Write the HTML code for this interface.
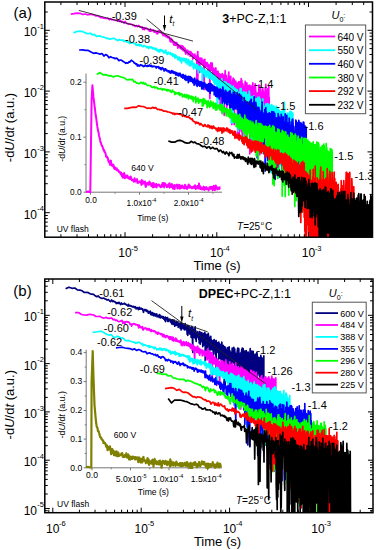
<!DOCTYPE html><html><head><meta charset="utf-8"><style>html,body{margin:0;padding:0;background:#fff;overflow:hidden}svg{display:block}</style></head><body><svg width="377" height="550" viewBox="0 0 377 550" font-family='"Liberation Sans", sans-serif'>
<rect width="377" height="550" fill="#fff"/>
<defs><clipPath id="ca"><rect x="44.8" y="2.0" width="327.7" height="235.2"/></clipPath>
<clipPath id="cb"><rect x="44.8" y="279.0" width="328.2" height="233.70000000000005"/></clipPath></defs>
<g clip-path="url(#ca)">
<polyline points="70.8,14.1 74.1,13.7 77.2,13.1 80,13.3 82.7,14.5 85.2,14 87.5,14.8 89.7,14.5 91.7,14.3 93.7,15 95.6,15.8 97.4,15.8 99.1,16.5 100.7,17.6 102.3,17.7 103.8,18.1 105.3,18.4 106.7,18.5 108,18.2 109.3,19.7 110.6,18.8 111.8,19.7 113,19.7 114.2,20 115.3,20.3 116.4,20.2 117.5,21.1 118.5,20.2 119.5,21.4 120.5,20.5 121.4,22.2 122.4,21.5 123.3,22.2 124.2,23.2 125.1,21.5 125.9,22.5 126.7,23.3 127.6,23.8 128.4,24.3 129.1,24 129.9,24.2 130.7,24.1 131.4,24.4 132.1,24.5 132.9,25.4 133.6,25 134.3,25.5 134.9,26.4 135.6,26.3 136.3,25.5 136.9,25.8 137.5,26.6 138.2,25.9 138.8,25.5 139.4,26.1 140,27.2 140.6,26.8 141.1,26.9 141.7,27.8 142.3,26.9 142.8,29.4 143.4,27.8 143.9,27.8 144.4,29.7 145,27.7 145.5,28.2 146,28.5 146.5,28.2 147,28.7 147.5,29.5 148,29.3 148.5,29.3 148.9,30.3 149.4,31.2 149.9,31.1 150.3,28.8 150.8,31.2 151.2,30.8 151.7,30.6 152.1,29.9 152.5,30.3 153,30.5 153.4,30 153.8,31.9 154.2,31.7 154.6,31 155,30.6 155.4,32.5 155.8,32 156.2,32.5 156.6,31.3 157,33.9 157.4,31.7 157.8,33.7 158.2,30.8 158.5,32.4 158.9,32.2 159.3,30.8 159.6,32 160,31.7 160.3,31.7 160.7,32.2 161,32 161.4,33.1 161.7,33.5 162.1,33.5 162.4,32.9 162.7,33.4 163.1,35.6 163.4,33.9 163.7,34.3 164.1,34.1 164.4,35.3 164.7,35.8 165,36 165.3,35.8 165.6,36.3 165.9,35.5 166.2,36.6 166.6,35.4 166.9,36.4 167.2,37.4 167.4,36 167.7,37.7 168,37.5 168.3,36.5 168.6,36.4 168.9,36.7 169.2,37.4 169.5,38.8 169.7,38.9 170,40.4 170.3,41.9 170.6,39 170.8,38.1 171.1,38.8 171.4,38.6 171.7,39.8 171.9,40.2 172.2,42.4 172.4,39.9 172.7,41.1 173,41.3 173.2,41.6 173.5,41.5 173.7,45 174,42.2 174.2,42.6 174.5,43.7 174.7,43.2 175,45.5 175.2,42.3 175.5,43.3 175.7,43.2 175.9,43.7 176.2,45.2 176.4,43.6 176.7,42.6 176.9,44.5 177.1,43.7 177.3,45.6 177.6,45.2 177.8,48.1 178.2,44.6 178.2,46 178.7,47.2 178.9,45.9 179.2,45.9 179.4,45.8 179.6,45.9 179.8,45.5 180.2,48.4 180.2,45.5 180.7,48.6 180.9,47.1 181.1,47.5 181.3,47.6 181.8,49.3 181.8,45.5 182.1,48.7 182.3,47.8 182.8,46.5 182.8,48.7 183.1,50.7 183.3,46.7 183.8,48.2 183.8,49.4 184.1,50 184.3,51.1 184.8,50.6 184.8,48 185.2,48.6 185.2,52.5 185.6,51.8 185.8,54.1 186.2,52.6 186.2,52.3 186.8,50 186.8,51.9 187.2,52.3 187.2,50.3 187.7,50.3 187.8,50.3 188.2,54.8 188.2,51.6 188.8,51.9 188.8,52 189.2,51.9 189.2,54.1 189.8,51.4 189.8,53 190.2,52.6 190.2,56.2 190.8,52.1 190.8,55.7 191.2,55.4 191.2,52.2 191.8,53.8 191.8,55.8 192.2,53.5 192.2,56.4 192.8,54 192.8,59.1 193.2,57.9 193.2,54.8 193.8,55.2 193.8,56.3 194.2,54.9 194.2,58.1 194.8,54 194.8,57.2 195.2,57.6 195.2,56.2 195.8,58 195.8,56 196.2,56 196.2,60 196.8,56.9 196.8,79.9 197.2,56.9 197.2,59.9 197.8,51.6 197.8,81.2 198.2,56.1 198.2,58.5 198.8,61.6 198.8,59.1 199.2,63.2 199.2,58.7 199.8,58.1 199.8,72.5 200.2,59.8 200.2,60.4 200.8,62 200.8,58.1 201.2,62.8 201.2,59.8 201.8,58.4 201.8,63.6 202.2,60.6 202.2,63.2 202.8,60.9 202.8,64.7 203.2,62.6 203.2,60.1 203.8,62.7 203.8,67.6 204.2,89.4 204.2,61.5 204.8,59.3 204.8,66.9 205.2,63.1 205.2,61.8 205.8,67.2 205.8,63.9 206.2,63.9 206.2,64.8 206.8,65.7 206.8,62.7 207.2,62.7 207.2,66.1 207.8,66.1 207.8,63.9 208.2,70.6 208.2,65.5 208.8,64.9 208.8,69.4 209.2,65.8 209.2,69.6 209.8,65.9 209.8,98.6 210.2,66 210.2,69.4 210.8,62.9 210.8,70.1 211.2,68.4 211.2,70.5 211.8,63.5 211.8,70.2 212.2,69 212.2,63.2 212.8,76.7 212.8,68.2 213.2,68.1 213.2,74.2 213.8,68.3 213.8,74.1 214.2,69.4 214.2,72.8 214.8,73.3 214.8,69.9 215.2,77.3 215.2,71.5 215.8,72 215.8,67.8 216.2,74.9 216.2,71.1 216.8,77.6 216.8,71.5 217.2,71.6 217.2,82.5 217.8,76.2 217.8,71.2 218.2,72 218.2,76.1 218.8,73.9 218.8,81.5 219.2,77.7 219.2,74 219.8,79.8 219.8,73.8 220.2,109 220.2,75.6 220.8,76.4 220.8,83.5 221.2,74.8 221.2,79 221.8,89.1 221.8,76.4 222.2,78.1 222.2,73.5 222.8,75.1 222.8,80.1 223.2,98.6 223.2,75.4 223.8,75.4 223.8,80.8 224.2,115.3 224.2,75.3 224.8,83.2 224.8,77.7 225.2,70.7 225.2,86.6 225.8,84.6 225.8,75.8 226.2,75.5 226.2,83.2 226.8,108.2 226.8,80.1 227.2,79.5 227.2,86.9 227.8,87.1 227.8,80.2 228.2,84.9 228.2,78.4 228.8,72.1 228.8,86.4 229.2,85.3 229.2,79.7 229.8,88.3 229.8,76.6 230.2,117.5 230.2,84.4 230.8,76.4 230.8,85.8 231.2,82.1 231.2,90.5 231.8,82.4 231.8,124.4 232.2,81.9 232.2,86.6 232.8,94.4 232.8,80.6 233.2,78.2 233.2,107.8 233.8,79.8 233.8,93 234.2,79.4 234.2,124.6 234.8,82.5 234.8,90.3 235.2,84.5 235.2,99.2 235.8,81.1 235.8,92.4 236.2,83.5 236.2,96.8 236.8,94.9 236.8,83.9 237.2,83.2 237.2,99.1 237.8,135.7 237.8,86.1 238.2,82.9 238.2,93.2 238.8,92.5 238.8,81.7 239.2,84.1 239.2,134.8 239.8,82.6 239.8,91.5 240.2,93.5 240.2,85.2 240.8,81.1 240.8,97.6 241.2,78.7 241.2,131.1 241.8,96 241.8,80.3 242.2,89.9 242.2,136.3 242.8,130.5 242.8,83.9 243.2,86.4 243.2,119 243.8,88.4 243.8,131.4 244.2,101.2 244.2,90.1 244.8,96.4 244.8,88.9 245.2,81.4 245.2,101.7 245.8,88.4 245.8,106 246.2,89.2 246.2,137.5 246.8,96.9 246.8,82.8 247.2,87.8 247.2,105.6 247.8,86.3 247.8,112.1 248.2,86.1 248.2,105.7 248.8,90.2 248.8,121.8 249.2,109.7 249.2,85.4 249.8,85.2 249.8,153.8 250.2,106.4 250.2,90.8 250.8,86.7 250.8,150.2 251.2,119.9 251.2,91.6 251.8,86 251.8,99.8 252.2,149.2 252.2,95.2 252.8,82.8 252.8,103.5 253.2,91.6 253.2,116.2 253.8,136 253.8,91.5 254.2,116 254.2,88 254.8,85.5 254.8,124.5 255.2,138.8 255.2,83.8 255.8,91 255.8,149.6 256.2,94.6 256.2,105 256.8,94.1 256.8,112.5 257.2,145.1 257.2,93 257.8,95.6 257.8,109.7 258.2,92.5 258.2,159.9 258.8,113.3 258.8,85 259.2,132.3 259.2,102.3 259.8,85.6 259.8,154.7 260.2,98.5 260.2,119.5 260.8,89 260.8,110.6 261.2,152.1 261.2,92 261.8,92.4 261.8,129.7 262.2,105.2 262.2,114.9 262.8,120.6 262.8,88.7 263.2,111.3 263.2,90.8 263.8,97.6 263.8,111.6 264.2,94.9 264.2,105.2 264.8,122.1 264.8,92.2 265.2,126.7 265.2,87.7 265.8,114 265.8,84.4 266.2,112.4 266.2,92.8 266.8,109.8 266.8,96.8 267.2,90.4 267.2,126.3 267.8,143.8 267.8,88.7 268.2,105.9 268.2,92 268.8,86.3 268.8,120.7 269.2,121.8 269.2,96.9" fill="none" stroke="#FF00FF" stroke-width="1.7" stroke-linejoin="round"/>
<polyline points="73.5,32.9 76.8,31.5 79.9,31.2 82.7,31.6 85.4,32.9 87.9,33.8 90.2,33.2 92.4,34.8 94.4,34.4 96.4,36.4 98.3,36.1 100.1,35.9 101.8,36.7 103.4,37.1 105,37.5 106.5,38.5 108,38.2 109.4,39.3 110.7,38.9 112,38.6 113.3,38.3 114.5,38.5 115.7,39.4 116.9,40 118,40.7 119.1,39.6 120.2,40.1 121.2,40 122.2,40.4 123.2,39.9 124.1,41.6 125.1,41 126,41.5 126.9,42 127.8,42.2 128.6,41.6 129.4,43.5 130.3,43.1 131.1,43.1 131.8,42.7 132.6,42.5 133.4,42.6 134.1,43.4 134.8,43.8 135.6,43.6 136.3,45.4 137,44.5 137.6,45.2 138.3,45.3 139,44.2 139.6,45.7 140.2,45.4 140.9,44.6 141.5,45.9 142.1,46.4 142.7,46.5 143.3,46.7 143.8,45.3 144.4,46 145,46 145.5,46.4 146.1,46.6 146.6,47.6 147.1,47.4 147.7,46.5 148.2,47.8 148.7,48.6 149.2,47.6 149.7,46.7 150.2,47.2 150.7,47.6 151.2,47 151.6,47.8 152.1,47.4 152.6,48.8 153,48.9 153.5,48.3 153.9,47.8 154.4,48.9 154.8,48.4 155.2,48.5 155.7,49.9 156.1,48.6 156.5,48.4 156.9,50 157.3,51 157.7,51 158.1,50.3 158.5,51.6 158.9,49.6 159.3,51.9 159.7,52 160.1,49.9 160.5,50.6 160.9,49.5 161.2,49.8 161.6,51 162,49.9 162.3,50.8 162.7,51.2 163,50.9 163.4,51.9 163.7,52.9 164.1,51.3 164.4,52.2 164.8,52.8 165.1,51.2 165.4,51.2 165.8,50.2 166.1,52.3 166.4,53.1 166.8,52.6 167.1,54.5 167.4,54 167.7,53.4 168,52.7 168.3,52.2 168.6,53.1 168.9,53.6 169.3,53.2 169.6,53.1 169.9,53.2 170.1,54.4 170.4,52.6 170.7,53.6 171,54.1 171.3,54.9 171.6,55 171.9,54.2 172.2,54 172.4,53.7 172.7,56.1 173,55.5 173.3,55.2 173.5,54.5 173.8,54.3 174.1,56.7 174.4,55.5 174.6,56.2 174.9,58.1 175.1,54.8 175.4,55.5 175.7,56.8 175.9,57.3 176.2,55.8 176.4,56.7 176.7,56.4 176.9,56.6 177.2,57.8 177.4,57.7 177.7,59.2 177.9,58.6 178.2,60 178.4,57.3 178.6,58.8 178.9,57.1 179.1,57 179.4,57.4 179.6,59.8 179.8,59.2 180,57.5 180.3,61.1 180.8,60.6 180.8,58.9 181.2,59.2 181.4,58.1 181.6,62.9 181.9,58.8 182.1,59.1 182.3,59 182.8,58.5 182.8,59.9 183.2,58.3 183.4,58.5 183.8,60.8 183.8,58.6 184.2,58.6 184.4,60.1 184.6,58.5 184.8,59.3 185.2,61.2 185.2,60 185.6,62.6 185.8,59.7 186.2,58.6 186.2,60.6 186.6,61.7 186.8,60 187.2,64.1 187.2,62.7 187.8,59.9 187.8,62 188.2,59.4 188.3,61.6 188.8,60 188.8,62.8 189.2,65.7 189.2,61.3 189.8,64.5 189.8,61.7 190.2,63.3 190.4,62.8 190.8,66 190.8,61.4 191.2,65.3 191.2,63.3 191.8,61.6 191.8,64.1 192.2,60.5 192.2,62.6 192.8,62.9 192.8,63.5 193.2,67.3 193.2,64.4 193.8,68.8 193.8,65.7 194.2,63.4 194.2,67.9 194.8,64 194.8,67.2 195.2,67.8 195.2,66.4 195.8,65.1 195.8,67.9 196.2,65.4 196.2,68.8 196.8,68.4 196.8,64.6 197.2,66.9 197.2,68.8 197.8,65.2 197.8,67.2 198.2,66.4 198.2,72.8 198.8,67.3 198.8,70.2 199.2,68 199.2,67.6 199.8,66.9 199.8,69.1 200.2,66.3 200.2,69.4 200.8,72.1 200.8,67.3 201.2,66.7 201.2,69.9 201.8,67.5 201.8,71.8 202.2,69.4 202.2,80.8 202.8,68.3 202.8,72.8 203.2,70.2 203.2,73.1 203.8,72.9 203.8,69.3 204.2,70.9 204.2,72.4 204.8,74.6 204.8,72.5 205.2,76.6 205.2,71.2 205.8,70.2 205.8,74.9 206.2,70.7 206.2,76.8 206.8,71.5 206.8,73.6 207.2,73.8 207.2,72.1 207.8,72.4 207.8,75.3 208.2,71.1 208.2,77.9 208.8,74.1 208.8,77.2 209.2,77.7 209.2,73 209.8,72.1 209.8,75.7 210.2,78.3 210.2,71.7 210.8,74.3 210.8,79.2 211.2,73.5 211.2,76.2 211.8,74.7 211.8,78.4 212.2,75.4 212.2,79.2 212.8,76.3 212.8,80.2 213.2,74.8 213.2,79.2 213.8,77.6 213.8,82.4 214.2,77 214.2,80.4 214.8,77.1 214.8,84.4 215.2,83.7 215.2,75.6 215.8,76.7 215.8,83.6 216.2,78.5 216.2,82.9 216.8,78.3 216.8,85 217.2,103.6 217.2,79.3 217.8,105.9 217.8,79.8 218.2,84.9 218.2,81 218.8,81.3 218.8,87.1 219.2,84.6 219.2,80.5 219.8,87.7 219.8,81.2 220.2,82.3 220.2,86.1 220.8,86.9 220.8,83.1 221.2,79.8 221.2,92.6 221.8,78.6 221.8,89.1 222.2,113 222.2,81.4 222.8,110.5 222.8,82.1 223.2,84 223.2,89.1 223.8,82.7 223.8,89.2 224.2,91.8 224.2,84 224.8,81.6 224.8,88.8 225.2,82.9 225.2,90.1 225.8,82.5 225.8,87.4 226.2,82.4 226.2,92.6 226.8,87.3 226.8,91.2 227.2,83.5 227.2,89.3 227.8,84.1 227.8,93.5 228.2,86.9 228.2,98.6 228.8,83.8 228.8,95.6 229.2,86.6 229.2,92.5 229.8,91.2 229.8,85.7 230.2,96.7 230.2,85.7 230.8,85.2 230.8,94.7 231.2,89.7 231.2,122.8 231.8,88.3 231.8,98.5 232.2,86.9 232.2,94 232.8,87.9 232.8,122.5 233.2,86.2 233.2,99.4 233.8,94.7 233.8,89.8 234.2,90.8 234.2,97.5 234.8,107.9 234.8,88.1 235.2,88.2 235.2,96.4 235.8,90.5 235.8,102 236.2,89.6 236.2,101.5 236.8,96.6 236.8,91.3 237.2,106.8 237.2,89.9 237.8,92.2 237.8,97.7 238.2,131.2 238.2,92.6 238.8,93.3 238.8,102.6 239.2,93.5 239.2,102.2 239.8,92.8 239.8,97.2 240.2,88.6 240.2,102 240.8,92.5 240.8,126.8 241.2,88.6 241.2,97.5 241.8,99.9 241.8,95.8 242.2,129.1 242.2,92.5 242.8,94.6 242.8,98.6 243.2,92.7 243.2,107.5 243.8,108.9 243.8,91.6 244.2,139.5 244.2,93.7 244.8,110.7 244.8,95 245.2,92.7 245.2,104.7 245.8,129.3 245.8,94.2 246.2,92.3 246.2,101.2 246.8,98.4 246.8,111.9 247.2,95.1 247.2,102.3 247.8,130.3 247.8,94.5 248.2,99.3 248.2,111 248.8,106.3 248.8,100 249.2,106.7 249.2,91.2 249.8,96.7 249.8,133.4 250.2,109.9 250.2,99.7 250.8,111.5 250.8,97.2 251.2,112.1 251.2,98.2 251.8,137.4 251.8,99.6 252.2,139.1 252.2,96.5 252.8,99.5 252.8,102.9 253.2,114.6 253.2,102.6 253.8,95.9 253.8,117.3 254.2,96.8 254.2,132.2 254.8,113.3 254.8,102.8 255.2,149.8 255.2,101.5 255.8,118.6 255.8,98.6 256.2,110.7 256.2,98.9 256.8,148.6 256.8,98.8 257.2,142.5 257.2,101 257.8,141.3 257.8,97.4 258.2,99.4 258.2,152.7 258.8,118.5 258.8,101.9 259.2,111.8 259.2,97 259.8,117 259.8,101.2 260.2,118.9 260.2,99.1 260.8,115.5 260.8,102.9 261.2,105.1 261.2,116 261.8,153 261.8,104.9 262.2,104 262.2,153.5 262.8,98.9 262.8,116.4 263.2,115.4 263.2,103.5 263.8,120.8 263.8,108.4 264.2,119.2 264.2,106.4 264.8,108.3 264.8,114.1 265.2,109.6 265.2,126.1 265.8,165.4 265.8,104 266.2,148.2 266.2,106.9 266.8,104.2 266.8,128 267.2,103.6 267.2,155.1 267.8,155.2 267.8,114.1 268.2,109.6 268.2,155.5 268.8,104.2 268.8,142.8 269.2,110.6 269.2,151.2 269.8,105.4 269.8,124 270.2,123.5 270.2,107.6 270.8,105.9 270.8,172.6 271.2,110.7 271.2,149.4 271.8,129.3 271.8,104.7 272.2,112.2 272.2,154.9 272.8,106.8 272.8,134.3 273.2,116.8 273.2,118.6 273.8,105.9 273.8,177.2 274.2,163.6 274.2,113.9 274.8,164.5 274.8,107.5 275.2,112.9 275.2,161.1 275.8,111 275.8,162.3 276.2,159.9 276.2,106.2 276.8,107.7 276.8,165.8 277.2,109.1 277.2,158.2 277.8,113 277.8,150.8 278.2,109 278.2,135.8 278.8,109.8 278.8,154.3 279.2,177.6 279.2,110.2 279.8,134.6 279.8,114.7 280.2,111.8 280.2,163.3 280.8,165.5 280.8,112.1 281.2,111.4 281.2,126.8 281.8,111.9 281.8,174.7 282.2,112.3 282.2,121.1 282.8,134.5 282.8,117.9 283.2,109.3 283.2,135.3 283.8,113.7 283.8,139.1 284.2,147.8 284.2,102.2 284.8,114.8 284.8,137.8 285.2,171.2 285.2,117.3 285.8,120.5 285.8,133.6 286.2,149.6 286.2,116.9 286.8,117.2 286.8,131.6 287.2,113 287.2,169.5 287.8,147.7 287.8,115.5 288.2,132 288.2,123 288.8,113.7 288.8,184.1 289.2,175 289.2,114.2 289.8,111.6 289.8,175.6 290.2,112.8 290.2,136.1 290.8,111.3 290.8,179 291.2,114.4 291.2,139.7 291.8,112.4 291.8,141.9 292.2,116.8 292.2,138.1 292.8,146.1 292.8,112.5" fill="none" stroke="#00FFFF" stroke-width="1.7" stroke-linejoin="round"/>
<polyline points="79.1,50 82.4,49.9 85.5,50.3 88.3,50.4 91,51.9 93.5,53.3 95.8,52.9 98,53.5 100,54.1 102,53.5 103.9,56 105.7,54.6 107.4,55.6 109,57.8 110.6,56.7 112.1,57.5 113.6,57.8 115,58.7 116.3,58 117.6,58.9 118.9,60.7 120.1,60 121.3,60.1 122.5,61 123.6,61.8 124.7,62.3 125.8,63.3 126.8,62.7 127.8,63.2 128.8,61.9 129.7,62.1 130.7,60.9 131.6,60.2 132.5,61.2 133.4,61.5 134.2,63.2 135,63.1 135.9,64.3 136.7,63.8 137.4,66 138.2,64.9 139,66.1 139.7,65.8 140.4,64.7 141.2,65.5 141.9,65.1 142.6,65.7 143.2,66.5 143.9,66 144.6,66.3 145.2,65 145.8,65.7 146.5,65.9 147.1,66.5 147.7,65.4 148.3,66.2 148.9,66.1 149.4,65 150,65.3 150.6,66.3 151.1,65.4 151.7,65.5 152.2,66.9 152.7,66.5 153.3,66.3 153.8,66.6 154.3,66.3 154.8,66.4 155.3,66.5 155.8,67.1 156.3,68 156.8,66.7 157.2,67 157.7,67 158.2,66.6 158.6,67.7 159.1,68.4 159.5,67.3 160,68.7 160.4,67.8 160.8,69.4 161.3,69.6 161.7,68.4 162.1,67.6 162.5,68.8 162.9,68.3 163.3,68.5 163.7,69.3 164.1,71 164.5,69.7 164.9,69.8 165.3,68.9 165.7,69.8 166.1,69.4 166.5,71 166.8,70.2 167.2,70.5 167.6,70.7 167.9,70.6 168.3,71.9 168.6,71.5 169,70.8 169.3,71.2 169.7,71.8 170,72.8 170.4,71.5 170.7,73.1 171,71.1 171.4,71.4 171.7,70.6 172,72.7 172.4,71 172.7,71.1 173,72.9 173.3,71.6 173.6,71.5 173.9,73.3 174.2,72.1 174.5,73.4 174.9,72.1 175.2,73.3 175.5,73.9 175.7,72.7 176,75.1 176.3,72.7 176.6,73 176.9,73.4 177.2,74.8 177.5,73.4 177.8,73.4 178,74.3 178.3,75.9 178.6,73.9 178.9,73.3 179.1,74.4 179.4,75.6 179.7,74.3 180,75.2 180.2,73.4 180.5,75.3 180.7,75.6 181,76.6 181.3,76.2 181.5,77.1 181.8,75 182,77.2 182.3,74.5 182.5,75.6 182.8,78.2 183,77.8 183.3,74.6 183.5,77.5 183.8,76.2 184.2,75.9 184.2,77.1 184.7,79.4 185,75.5 185.2,76.6 185.4,77 185.6,75.3 185.9,79.4 186.1,80.5 186.3,76.7 186.6,78.2 186.8,77.3 187.2,77 187.2,79.3 187.7,76.6 187.9,80.4 188.1,78.6 188.3,82.6 188.8,76.3 188.8,78.1 189.2,78.1 189.4,79.2 189.6,77.4 189.8,76.9 190.2,76.6 190.2,81.3 190.6,81.1 190.8,79 191.2,78.7 191.2,77.5 191.6,77.5 191.8,81.5 192.2,79.2 192.2,80.2 192.8,82.7 192.8,79 193.2,79.6 193.4,79.3 193.8,82.9 193.8,80 194.1,85.2 194.3,80.6 194.8,78.2 194.8,80.6 195.2,80.2 195.2,81.8 195.8,83.6 195.8,81.1 196.2,84.8 196.2,80.7 196.7,82.5 196.8,82.8 197.2,86.3 197.2,79.9 197.8,82.7 197.8,81.5 198.2,82.9 198.2,84.9 198.8,81.2 198.8,82.4 199.2,81.8 199.2,85.4 199.8,82.7 199.8,86.2 200.2,85.1 200.2,82.8 200.8,83.1 200.8,81.7 201.2,85.3 201.2,82.1 201.8,89 201.8,82.1 202.2,86.7 202.2,82.5 202.8,83.6 202.8,86.6 203.2,85 203.2,88.9 203.8,86.4 203.8,83 204.2,82.7 204.2,86.9 204.8,83 204.8,85.2 205.2,84 205.2,84.5 205.8,84.3 205.8,88.5 206.2,84.5 206.2,89.6 206.8,88.5 206.8,84.8 207.2,84.5 207.2,90.1 207.8,85.4 207.8,87.5 208.2,91.5 208.2,84.9 208.8,90.5 208.8,83.7 209.2,91 209.2,87.3 209.8,83.6 209.8,87.8 210.2,93.4 210.2,85.1 210.8,83.6 210.8,87.7 211.2,86.3 211.2,89.9 211.8,90.9 211.8,84.6 212.2,90.1 212.2,86.7 212.8,85.3 212.8,90.6 213.2,88.7 213.2,87.1 213.8,89.7 213.8,86.8 214.2,86.4 214.2,94.7 214.8,92.4 214.8,86.6 215.2,87 215.2,94.3 215.8,96.2 215.8,88 216.2,91.3 216.2,89.3 216.8,87.3 216.8,92.9 217.2,91.2 217.2,97 217.8,94.9 217.8,88.4 218.2,89.9 218.2,94.5 218.8,90.6 218.8,94.9 219.2,99 219.2,89.6 219.8,92.8 219.8,90.1 220.2,89.1 220.2,96.4 220.8,94.1 220.8,90.3 221.2,89.9 221.2,91.6 221.8,95.3 221.8,92.2 222.2,103.3 222.2,89.8 222.8,96.5 222.8,87.1 223.2,90.9 223.2,99 223.8,101.6 223.8,92.4 224.2,93.2 224.2,96.4 224.8,103.7 224.8,92 225.2,101.9 225.2,90.3 225.8,90.7 225.8,102.2 226.2,97.2 226.2,92.1 226.8,104.5 226.8,92.2 227.2,94.7 227.2,104.5 227.8,104.9 227.8,93 228.2,102 228.2,92.7 228.8,95.7 228.8,101.4 229.2,102.2 229.2,91.4 229.8,95.4 229.8,109.5 230.2,90.5 230.2,98.6 230.8,96.5 230.8,104 231.2,107.3 231.2,94.2 231.8,104.8 231.8,98.1 232.2,100.5 232.2,95.8 232.8,108 232.8,94.8 233.2,109.7 233.2,92 233.8,95.2 233.8,102.6 234.2,92.8 234.2,106.6 234.8,108.6 234.8,92.9 235.2,98.7 235.2,109 235.8,103.6 235.8,95 236.2,96.8 236.2,107.4 236.8,104.8 236.8,96.4 237.2,109.4 237.2,92.7 237.8,103.9 237.8,97.4 238.2,114 238.2,96.3 238.8,117.7 238.8,96.5 239.2,93.8 239.2,108 239.8,106.9 239.8,97.2 240.2,113.1 240.2,101.7 240.8,95.2 240.8,115.4 241.2,102.1 241.2,111.7 241.8,96.8 241.8,112.6 242.2,101.5 242.2,120.5 242.8,103.2 242.8,117.7 243.2,104.8 243.2,124.3 243.8,117.5 243.8,102.3 244.2,108.9 244.2,97.6 244.8,104.2 244.8,122.4 245.2,115.7 245.2,101.7 245.8,104.4 245.8,118.4 246.2,103.2 246.2,116.2 246.8,102.3 246.8,121.7 247.2,103 247.2,119.5 247.8,102.1 247.8,117.7 248.2,104.5 248.2,116.1 248.8,108.4 248.8,118.4 249.2,120.1 249.2,103.4 249.8,123.7 249.8,101.4 250.2,104.9 250.2,117.9 250.8,110.6 250.8,100.5 251.2,99.2 251.2,124.3 251.8,121.1 251.8,109.2 252.2,121.9 252.2,103.5 252.8,117 252.8,108.8 253.2,122.7 253.2,102.6 253.8,111.1 253.8,104.1 254.2,96.9 254.2,122 254.8,104.9 254.8,124.2 255.2,106.4 255.2,121 255.8,121.3 255.8,102.3 256.2,105.8 256.2,118.7 256.8,107.5 256.8,118.4 257.2,157.8 257.2,112.7 257.8,133.2 257.8,107.3 258.2,109 258.2,126.4 258.8,128 258.8,107.3 259.2,110.6 259.2,132.6 259.8,110.3 259.8,115.6 260.2,114.1 260.2,133.1 260.8,112.7 260.8,126.8 261.2,115 261.2,131.3 261.8,127.1 261.8,107.3 262.2,102.2 262.2,124 262.8,120.9 262.8,112.4 263.2,114.8 263.2,147.7 263.8,131.8 263.8,114.4 264.2,147.7 264.2,120.7 264.8,129.6 264.8,109.6 265.2,171 265.2,114.2 265.8,107.7 265.8,135.5 266.2,111.6 266.2,131.4 266.8,138.3 266.8,117 267.2,127.2 267.2,113.7 267.8,160.6 267.8,114.4 268.2,114.1 268.2,127 268.8,123.7 268.8,114 269.2,112.8 269.2,132.9 269.8,120.4 269.8,133.1 270.2,136.3 270.2,118.5 270.8,163.6 270.8,113.6 271.2,135.5 271.2,115.2 271.8,111.7 271.8,167 272.2,119.4 272.2,128.2 272.8,111.9 272.8,121.3 273.2,137.5 273.2,117.4 273.8,112 273.8,138.5 274.2,114.6 274.2,138.6 274.8,113.7 274.8,140.6 275.2,179.4 275.2,120.1 275.8,175.4 275.8,119.8 276.2,140.7 276.2,117.8 276.8,123.4 276.8,144.1 277.2,122.6 277.2,133.8 277.8,139.4 277.8,120.9 278.2,113.7 278.2,135.1 278.8,138.3 278.8,116.1 279.2,118.4 279.2,140.1 279.8,131 279.8,117.9 280.2,119.5 280.2,138.3 280.8,139.3 280.8,118.5 281.2,138.4 281.2,114.3 281.8,118.8 281.8,169 282.2,136.1 282.2,123.1 282.8,123.5 282.8,150.1 283.2,116.9 283.2,130.4 283.8,122.3 283.8,148.1 284.2,122.3 284.2,139.4 284.8,147.1 284.8,126.8 285.2,139.9 285.2,113.9 285.8,120.3 285.8,149.9 286.2,116 286.2,145.2 286.8,115.4 286.8,134 287.2,123.4 287.2,141.2 287.8,123.1 287.8,147.1 288.2,127.2 288.2,181.3 288.8,125.5 288.8,147.2 289.2,118 289.2,164 289.8,154.4 289.8,127.2 290.2,147.1 290.2,125.5 290.8,138.5 290.8,127.8 291.2,149.5 291.2,122.1 291.8,121.8 291.8,142.2 292.2,119.7 292.2,138.7 292.8,143.5 292.8,119.1 293.2,127.8 293.2,175.9 293.8,148.1 293.8,126.4 294.2,132.6 294.2,172.8 294.8,138.2 294.8,131.1 295.2,131.4 295.2,146.7 295.8,150.3 295.8,120.1 296.2,121.5 296.2,149.5 296.8,131.4 296.8,156.1 297.2,128.1 297.2,133.2 297.8,152.4 297.8,122.8 298.2,180.3 298.2,128.3 298.8,120.4 298.8,146.4 299.2,122.5 299.2,145.3 299.8,202.4 299.8,122.3 300.2,128 300.2,165.3 300.8,200.3 300.8,126.2 301.2,140.5 301.2,123.2 301.8,140.6 301.8,127.9 302.2,125.2 302.2,141.5 302.8,126.4 302.8,210.8 303.2,148 303.2,122.2 303.8,122.3 303.8,146.2 304.2,126.9 304.2,171.7 304.8,151.9 304.8,125.5 305.2,203.9 305.2,129 305.8,162.2 305.8,127 306.2,144.2 306.2,126.7" fill="none" stroke="#0000FF" stroke-width="1.7" stroke-linejoin="round"/>
<polyline points="96.7,74.4 100,72.6 103.1,74.8 105.9,74.6 108.6,75.8 111.1,75.7 113.4,76.9 115.6,76 117.6,75.9 119.6,76.5 121.5,77.1 123.3,77.5 125,78.3 126.6,79.6 128.2,79.8 129.7,79.4 131.2,79.7 132.6,79.4 133.9,81.9 135.2,81.4 136.5,83.1 137.7,83.2 138.9,83.8 140.1,83.1 141.2,82.2 142.3,83.5 143.4,82.5 144.4,84.3 145.4,83.2 146.4,84.6 147.3,85.5 148.3,85.4 149.2,85.5 150.1,85.7 151,86.1 151.8,87.3 152.6,87.5 153.5,86.9 154.3,86.7 155,88 155.8,87.1 156.6,87.7 157.3,87.8 158,89 158.8,88.7 159.5,88.9 160.2,88.8 160.8,88.3 161.5,89.2 162.2,90 162.8,88.8 163.4,89.4 164.1,88.9 164.7,89.9 165.3,89.6 165.9,89.9 166.5,89.6 167,91 167.6,89.6 168.2,89.8 168.7,89.9 169.3,91 169.8,90.3 170.3,90.5 170.9,91.8 171.4,92.4 171.9,92.1 172.4,90.1 172.9,91.3 173.4,91.5 173.9,91.6 174.4,92.2 174.8,94.5 175.3,92.5 175.8,92.4 176.2,93.8 176.7,93.2 177.1,93.4 177.6,93 178,93.5 178.4,94.2 178.9,92.5 179.3,92.9 179.7,95.3 180.1,95.2 180.5,94 180.9,93.7 181.3,94.4 181.7,93.8 182.1,94.5 182.5,96.9 182.9,95.1 183.3,96.5 183.7,95 184.1,95.7 184.4,97 184.8,94.4 185.2,95.2 185.5,95.4 185.9,96 186.2,97.7 186.6,96.7 186.9,94.7 187.3,95.7 187.6,95.3 188,95.4 188.3,98.9 188.6,95.4 189,96.6 189.3,95.8 189.6,97.7 190,97.1 190.3,96.9 190.6,96.7 190.9,98.6 191.2,96.2 191.5,96.5 191.8,96.3 192.1,99.4 192.5,97.2 192.8,96.7 193.1,97.4 193.3,101.6 193.6,97.9 193.9,99.4 194.2,98.9 194.5,98.3 194.8,97.8 195.1,98.2 195.4,98.3 195.6,96.6 195.9,103 196.2,100.4 196.5,99.2 196.7,98.9 197,98.5 197.3,100.9 197.6,99.3 197.8,100.3 198.1,98.2 198.3,100.3 198.6,103.2 198.9,99.6 199.1,101.3 199.4,100.1 199.6,102 199.9,102 200.1,100.4 200.4,99.8 200.6,100.9 200.9,100.6 201.1,99.9 201.4,101.5 201.6,101.5 201.8,99.9 202.1,100.7 202.3,106.2 202.6,102.5 202.8,101.3 203.2,105.8 203.2,98.6 203.7,99.3 203.9,99.8 204.2,102 204.4,103.4 204.6,99.2 204.8,103.8 205.2,100.4 205.2,102.8 205.7,102.8 205.9,102.1 206.1,102.5 206.4,101 206.8,102.9 206.8,104.3 207.2,107.7 207.4,104.8 207.6,104.2 207.8,106.1 208.2,103.4 208.2,100.5 208.6,105.7 208.8,104.3 209.2,105 209.2,103 209.6,107.3 209.8,104.3 210.2,102.4 210.2,106.6 210.8,102.6 210.8,100.9 211.2,102.6 211.4,105.8 211.8,104.5 211.8,102.9 212.2,104.4 212.2,104 212.7,104.4 212.8,103.9 213.2,108.5 213.2,102.1 213.8,103.8 213.8,106.6 214.2,106.5 214.2,105.8 214.8,103.9 214.8,107.6 215.2,105.4 215.2,109.1 215.8,110.1 215.8,103.2 216.2,108.2 216.2,104.8 216.8,106.1 216.8,109.9 217.2,105.3 217.2,108 217.8,106.6 217.8,107.1 218.2,105 218.2,107.2 218.8,108 218.8,106 219.2,107.3 219.2,109 219.8,107.1 219.8,107.8 220.2,110.2 220.2,104.7 220.8,105.3 220.8,108.5 221.2,108.1 221.2,110.3 221.8,104.7 221.8,112 222.2,106.7 222.2,113.8 222.8,106.1 222.8,109.7 223.2,107.6 223.2,112 223.8,107.6 223.8,109.9 224.2,108.8 224.2,111.3 224.8,108.5 224.8,110.8 225.2,108 225.2,111.8 225.8,113.2 225.8,111.3 226.2,115.9 226.2,110.6 226.8,112.8 226.8,108.5 227.2,111.1 227.2,113.3 227.8,109.8 227.8,112.4 228.2,110.9 228.2,116.4 228.8,110.4 228.8,115.9 229.2,110.1 229.2,116.8 229.8,116.9 229.8,109.1 230.2,118 230.2,109.7 230.8,115.2 230.8,109.5 231.2,117 231.2,113.7 231.8,113 231.8,115.5 232.2,121 232.2,114.3 232.8,119.2 232.8,113.7 233.2,116.4 233.2,119.4 233.8,115.1 233.8,122.3 234.2,115.9 234.2,120.6 234.8,119.7 234.8,113.8 235.2,122.3 235.2,113.4 235.8,115.4 235.8,121 236.2,126.7 236.2,114.6 236.8,124.1 236.8,116.1 237.2,118.5 237.2,116 237.8,127.1 237.8,116.6 238.2,118 238.2,123.6 238.8,115.3 238.8,120.2 239.2,116.9 239.2,128.9 239.8,123.4 239.8,114.3 240.2,124.9 240.2,119 240.8,128.9 240.8,121.1 241.2,118.7 241.2,126.8 241.8,120.2 241.8,127.9 242.2,126.4 242.2,118.2 242.8,131.2 242.8,120.7 243.2,122 243.2,119.8 243.8,124.1 243.8,119.7 244.2,142.7 244.2,122.8 244.8,131.4 244.8,115.2 245.2,123 245.2,133.3 245.8,125.6 245.8,118.5 246.2,120.6 246.2,128.2 246.8,124.8 246.8,134.3 247.2,119.8 247.2,140.5 247.8,133 247.8,120.7 248.2,132.3 248.2,120.7 248.8,121.7 248.8,131.2 249.2,130.9 249.2,121.1 249.8,133.7 249.8,123.7 250.2,124.2 250.2,139.8 250.8,129.8 250.8,121 251.2,125.4 251.2,135.1 251.8,125.4 251.8,136.5 252.2,126.3 252.2,132.7 252.8,122.1 252.8,135 253.2,125.3 253.2,140.5 253.8,139.4 253.8,124.2 254.2,126.7 254.2,146.8 254.8,125.7 254.8,136 255.2,134 255.2,126.8 255.8,135.1 255.8,125.1 256.2,120.5 256.2,155.7 256.8,138.8 256.8,128 257.2,140.5 257.2,126.2 257.8,127.7 257.8,142.9 258.2,160.7 258.2,123.3 258.8,125.3 258.8,138.6 259.2,138.3 259.2,128.5 259.8,133.5 259.8,123.5 260.2,126.8 260.2,142.3 260.8,123.5 260.8,134.8 261.2,139.9 261.2,128.5 261.8,142 261.8,126.2 262.2,125.2 262.2,137 262.8,142 262.8,126.4 263.2,141.3 263.2,127.6 263.8,133.3 263.8,126.6 264.2,128.2 264.2,137.4 264.8,137 264.8,127.4 265.2,138.2 265.2,126 265.8,132.5 265.8,145.1 266.2,128.5 266.2,139.4 266.8,146.2 266.8,126.5 267.2,128.6 267.2,151.1 267.8,139.7 267.8,130.3 268.2,128.8 268.2,138.4 268.8,126.6 268.8,149.1 269.2,169 269.2,134.7 269.8,143.9 269.8,125.4 270.2,166.9 270.2,140.3 270.8,144.8 270.8,129 271.2,133.8 271.2,167.7 271.8,127.9 271.8,148.5 272.2,135.4 272.2,147 272.8,125.9 272.8,184 273.2,143.8 273.2,132.8 273.8,146.7 273.8,126.6 274.2,185.6 274.2,127 274.8,148.5 274.8,132.3 275.2,132.5 275.2,173.8 275.8,132.6 275.8,146.3 276.2,145.9 276.2,135.2 276.8,133.7 276.8,145.4 277.2,151.2 277.2,136.2 277.8,128.8 277.8,178.4 278.2,171.3 278.2,138.7 278.8,132.3 278.8,158 279.2,129.8 279.2,149.6 279.8,132.5 279.8,150.7 280.2,144.7 280.2,137.6 280.8,135 280.8,144.9 281.2,133.6 281.2,141.9 281.8,134.4 281.8,151 282.2,130.3 282.2,196.1 282.8,133.1 282.8,165.6 283.2,160.6 283.2,135 283.8,131.6 283.8,164.9 284.2,133.9 284.2,185.1 284.8,133.9 284.8,150.1 285.2,138.4 285.2,196.6 285.8,158.7 285.8,131.9 286.2,151.1 286.2,139.3 286.8,156.4 286.8,137.7 287.2,184.3 287.2,139.6 287.8,135.2 287.8,145.7 288.2,152.7 288.2,137.6 288.8,195.1 288.8,139.6 289.2,137.6 289.2,157.6 289.8,156.7 289.8,138.2 290.2,154.3 290.2,141 290.8,173.1 290.8,132.5 291.2,139.5 291.2,147.8 291.8,141.8 291.8,167.6 292.2,133.7 292.2,181.6 292.8,136.2 292.8,158.4 293.2,135.7 293.2,164.4 293.8,136.3 293.8,149.8 294.2,142.5 294.2,170.6 294.8,135.7 294.8,206.5 295.2,156.9 295.2,134 295.8,155.2 295.8,135.6 296.2,200.6 296.2,144 296.8,150.9 296.8,142.6 297.2,146.5 297.2,193 297.8,137.7 297.8,161.6 298.2,136.2 298.2,157.4 298.8,157 298.8,139.5 299.2,142.2 299.2,159.8 299.8,139.1 299.8,155.9 300.2,170.8 300.2,142.4 300.8,139.3 300.8,204.1 301.2,139.6 301.2,159.4 301.8,137.3 301.8,163.7 302.2,144.8 302.2,176.9 302.8,212.1 302.8,145.8 303.2,184.2 303.2,147.7 303.8,169.6 303.8,138.3 304.2,146.1 304.2,156.6 304.8,157.9 304.8,149.7 305.2,138.4 305.2,207.8 305.8,212.5 305.8,147.4 306.2,138.5 306.2,168.9 306.8,145.8 306.8,206.9 307.2,142.6 307.2,174.5 307.8,140.1 307.8,177.7 308.2,148.3 308.2,154.4 308.8,155.1 308.8,169.8 309.2,198.1 309.2,141.7 309.8,146.9 309.8,159 310.2,152.9 310.2,171.7 310.8,142.9 310.8,177.4 311.2,212.9 311.2,144.4 311.8,164.6 311.8,143.8 312.2,191.7 312.2,150 312.8,160.8 312.8,147.8 313.2,160.9 313.2,141.9 313.8,222.5 313.8,152.3 314.2,163.1 314.2,144.9 314.8,166.6 314.8,146.2 315.2,144.7 315.2,173.7 315.8,174 315.8,147.6 316.2,237.1 316.2,151.8 316.8,202.4 316.8,142.1 317.2,226.6 317.2,156.3 317.8,144.6 317.8,226.3 318.2,184.4 318.2,142.6 318.8,187.6 318.8,144 319.2,158.1 319.2,230.4 319.8,152.4 319.8,173.4 320.2,150.1 320.2,167.3 320.8,179.5 320.8,147.4 321.2,235.6 321.2,150.9 321.8,148.5 321.8,176.8 322.2,145.6 322.2,171 322.8,208.3 322.8,152.9 323.2,241.2 323.2,152.1 323.8,171.6 323.8,144 324.2,178.8 324.2,145.6 324.8,201.3 324.8,152 325.2,230.5 325.2,154.4 325.8,176.8 325.8,159.3 326.2,143.6 326.2,169 326.8,176.7 326.8,147.7 327.2,240.8 327.2,152.8 327.8,151 327.8,174.8 328.2,215.5 328.2,151.4 328.8,217.9 328.8,152.4 329.2,185.4 329.2,157.7 329.8,152.5 329.8,212.1 330.2,148.7 330.2,172.7 330.8,149 330.8,166.8 331.2,241.2 331.2,152.6 331.8,162.9 331.8,149.4 332.2,152.4 332.2,175.6" fill="none" stroke="#00FF00" stroke-width="1.7" stroke-linejoin="round"/>
<polyline points="124.2,108.3 127.5,108.4 130.6,107.7 133.4,107.2 136.1,107.4 138.6,105.8 140.9,106.4 143.1,106.5 145.1,107.3 147.1,108.3 149,108 150.8,108.5 152.5,107.4 154.1,108.1 155.7,107.6 157.2,109.3 158.7,109.3 160.1,109.9 161.4,109.7 162.7,110.6 164,111.1 165.2,111 166.4,111.4 167.6,111.9 168.7,112 169.8,112.3 170.9,112.8 171.9,112.9 172.9,114 173.9,113.1 174.8,114.5 175.8,113.7 176.7,113.9 177.6,113.6 178.5,114.2 179.3,114.2 180.1,114.6 181,114.3 181.8,114.7 182.5,116.3 183.3,115.5 184.1,115.3 184.8,116.6 185.5,116.1 186.3,116.9 187,117.2 187.7,116.9 188.3,116.4 189,117.4 189.7,118.3 190.3,118 190.9,118.8 191.6,119.5 192.2,118.9 192.8,120.6 193.4,121.3 194,121.3 194.5,121.8 195.1,122.1 195.7,123.6 196.2,122.1 196.8,122.3 197.3,123.2 197.8,122.5 198.4,122.5 198.9,123.2 199.4,124.5 199.9,124.9 200.4,123.7 200.9,123.5 201.4,124.6 201.9,124.7 202.3,124.9 202.8,125.7 203.3,126.4 203.7,125.4 204.2,125.9 204.6,124.7 205.1,124.7 205.5,125.8 205.9,126.3 206.4,126.5 206.8,126.4 207.2,126.7 207.6,126.8 208,124.8 208.4,125.6 208.8,126.8 209.2,127.1 209.6,125.5 210,128 210.4,126.5 210.8,126.7 211.2,127.3 211.6,128 211.9,126.2 212.3,128.6 212.7,127.6 213,127 213.4,127.5 213.7,126.2 214.1,127.5 214.4,128.3 214.8,127.6 215.1,128 215.5,128.3 215.8,128.5 216.1,129.8 216.5,128.6 216.8,128.4 217.1,129.4 217.5,131.4 217.8,128.5 218.1,129.5 218.4,127.6 218.7,130.7 219,129.8 219.3,130.8 219.6,128.9 220,128.1 220.3,130.3 220.6,130.1 220.8,128.4 221.1,127.9 221.4,129.8 221.7,129.1 222,133.1 222.3,128.8 222.6,128.9 222.9,129.3 223.1,127.9 223.4,128.6 223.7,132 224,129.4 224.2,129 224.5,128.4 224.8,130.5 225.1,130.7 225.3,130.1 225.6,129.3 225.8,130.2 226.1,130.4 226.4,129.2 226.6,130.8 226.9,127.8 227.1,128.6 227.4,129.6 227.6,129.8 227.9,128.8 228.1,130.6 228.4,132 228.6,131.1 228.9,130.9 229.1,132.1 229.3,131.5 229.6,129.7 229.8,130.8 230.1,133.5 230.3,130.1 230.8,131.6 230.8,130.8 231.2,130.8 231.4,132.2 231.7,132.7 231.9,132.8 232.1,130.8 232.3,132.2 232.8,133.3 232.8,134.6 233.2,134.7 233.4,135.3 233.6,134.9 233.9,132.5 234.2,133.7 234.2,131.1 234.7,131.9 234.9,138.3 235.1,132.8 235.3,131.5 235.8,133.7 235.8,137.7 236.1,135.6 236.3,134.5 236.8,134.9 236.8,137.8 237.1,135.2 237.3,137.4 237.8,137.9 237.8,135.4 238.2,135.1 238.2,138.7 238.7,136 238.9,135.5 239.2,134.2 239.2,140.1 239.8,135.2 239.8,137.9 240.2,138.3 240.3,138.6 240.8,136.2 240.8,137.8 241.2,137.9 241.2,137.4 241.8,139.5 241.8,141.3 242.2,137.2 242.2,139.4 242.8,143.4 242.8,138.5 243.2,138.9 243.2,137.6 243.8,138.3 243.8,143.5 244.2,144.7 244.2,137.6 244.8,142.6 244.8,141.5 245.2,139.6 245.2,139.9 245.8,142.5 245.8,136.6 246.2,141.1 246.2,137.8 246.8,139.7 246.8,145.2 247.2,141.5 247.2,138 247.8,139.9 247.8,146.8 248.2,142.8 248.2,148 248.8,142.9 248.8,139.9 249.2,143.3 249.2,147.3 249.8,139.5 249.8,146.3 250.2,148.7 250.2,141.5 250.8,143.9 250.8,141 251.2,152.1 251.2,141.9 251.8,144 251.8,148.2 252.2,146.7 252.2,143 252.8,141.4 252.8,150.9 253.2,144.3 253.2,141.9 253.8,144.5 253.8,147.5 254.2,148.3 254.2,145 254.8,141.2 254.8,150.2 255.2,144 255.2,152.1 255.8,150.4 255.8,144.9 256.2,141.2 256.2,150 256.8,148.3 256.8,145.9 257.2,146.4 257.2,148.7 257.8,141.5 257.8,149.3 258.2,150.4 258.2,144.7 258.8,147 258.8,142.2 259.2,147.3 259.2,143.6 259.8,151.9 259.8,145.3 260.2,145.7 260.2,149.3 260.8,142.6 260.8,151.3 261.2,153.1 261.2,142.9 261.8,143.1 261.8,148.8 262.2,145.7 262.2,151.4 262.8,148.7 262.8,151 263.2,150.9 263.2,145.5 263.8,145.2 263.8,153.8 264.2,147.4 264.2,148.1 264.8,145 264.8,152.8 265.2,148.6 265.2,155.5 265.8,157.5 265.8,147 266.2,146.9 266.2,154 266.8,147.2 266.8,155.9 267.2,148.3 267.2,151.7 267.8,147.8 267.8,154 268.2,148.5 268.2,154.5 268.8,156.1 268.8,148.9 269.2,159.4 269.2,148.4 269.8,146.5 269.8,149.8 270.2,154.5 270.2,149 270.8,155.6 270.8,151.6 271.2,149.3 271.2,155.2 271.8,149.9 271.8,154.8 272.2,159.8 272.2,151.4 272.8,159.2 272.8,151.6 273.2,150.7 273.2,158.2 273.8,149.1 273.8,158.8 274.2,152.2 274.2,159 274.8,153.1 274.8,160.9 275.2,153.1 275.2,159.5 275.8,150.1 275.8,162.9 276.2,160.6 276.2,152.8 276.8,152.3 276.8,161 277.2,151.5 277.2,163.1 277.8,149.9 277.8,167.1 278.2,162 278.2,156 278.8,164.3 278.8,150.4 279.2,162.3 279.2,153.2 279.8,154.2 279.8,159.7 280.2,153.7 280.2,163.1 280.8,153.6 280.8,158.2 281.2,158.2 281.2,153.2 281.8,159.8 281.8,154 282.2,164.8 282.2,153.8 282.8,164 282.8,156.2 283.2,161.5 283.2,156 283.8,168.9 283.8,154.8 284.2,166.4 284.2,153.8 284.8,154.7 284.8,162.3 285.2,153 285.2,170.3 285.8,157.7 285.8,174 286.2,175.3 286.2,158.1 286.8,154.6 286.8,170.8 287.2,158.4 287.2,167.1 287.8,170.1 287.8,156.9 288.2,156.9 288.2,173.3 288.8,174.5 288.8,160.5 289.2,156 289.2,167.6 289.8,161 289.8,164.1 290.2,162.5 290.2,171.7 290.8,158 290.8,167.9 291.2,177.9 291.2,161.7 291.8,166.9 291.8,160 292.2,181.1 292.2,163.2 292.8,164.7 292.8,182.5 293.2,163.7 293.2,169.5 293.8,188.6 293.8,160.1 294.2,185.3 294.2,160.8 294.8,175.1 294.8,161 295.2,192.2 295.2,164.2 295.8,161.5 295.8,184.6 296.2,162.5 296.2,193.5 296.8,192.7 296.8,163.2 297.2,165.1 297.2,183.7 297.8,182.3 297.8,163.4 298.2,173.6 298.2,184.1 298.8,170.1 298.8,188 299.2,170.1 299.2,182.8 299.8,203.4 299.8,165 300.2,174.4 300.2,205 300.8,171.5 300.8,222.4 301.2,181.8 301.2,162.7 301.8,198 301.8,172.9 302.2,176 302.2,212.1 302.8,161.3 302.8,197.2 303.2,194 303.2,168.1 303.8,187.2 303.8,168.7 304.2,163.1 304.2,217.2 304.8,179.4 304.8,231 305.2,178.2 305.2,241.2 305.8,171.7 305.8,241.2 306.2,237.7 306.2,186.8 306.8,182.1 306.8,220.9 307.2,224.7 307.2,173.3 307.8,175 307.8,207.2 308.2,176.7 308.2,229.1 308.8,241.2 308.8,175.5 309.2,189.8 309.2,241.2 309.8,189.2 309.8,241.2 310.2,170 310.2,223.7 310.8,180 310.8,241 311.2,241.2 311.2,180.4 311.8,183 311.8,237.3 312.2,241.2 312.2,194.4 312.8,241.2 312.8,177.2 313.2,212.9 313.2,169.4 313.8,241.2 313.8,193.8 314.2,179.2 314.2,241.2 314.8,179.9 314.8,216.8 315.2,217 315.2,166 315.8,238.3 315.8,186 316.2,223 316.2,186.3 316.8,241.2 316.8,202.3 317.2,241.2 317.2,177.8 317.8,183.8 317.8,219.4 318.2,241.2 318.2,200.5 318.8,181 318.8,215.8 319.2,180.1 319.2,229.9 319.8,194.3 319.8,241.2 320.2,241.2 320.2,178.2 320.8,167.1 320.8,225.1 321.2,186.7 321.2,223.1 321.8,182.8 321.8,241.2 322.2,241.2 322.2,180.1 322.8,241.2 322.8,180.3 323.2,241.2 323.2,171.6 323.8,241.2 323.8,196.9 324.2,224.5 324.2,179.8 324.8,181.4 324.8,241.2 325.2,241.2 325.2,186.9 325.8,241.2 325.8,178.3 326.2,195 326.2,241.2 326.8,179.3 326.8,241.2 327.2,241.2 327.2,168.5 327.8,179.4 327.8,241.2 328.2,184.5 328.2,241.2 328.8,241.2 328.8,192.9 329.2,241.2 329.2,193.7 329.8,171.3 329.8,241.2 330.2,173.5 330.2,241.2 330.8,241.2 330.8,180.3 331.2,241.2 331.2,190.3 331.8,241.2 331.8,188 332.2,172.5 332.2,241.2 332.8,187.5 332.8,207.6 333.2,241.2 333.2,199.3 333.8,219.7 333.8,183.9 334.2,172 334.2,241.2 334.8,178.7 334.8,241.2 335.2,241.2 335.2,195.5 335.8,236.9 335.8,199.8 336.2,182.3 336.2,241.2 336.8,185.2 336.8,241.2 337.2,241.2 337.2,188.3 337.8,241.2 337.8,193.1 338.2,241.2 338.2,184.4 338.8,241.2 338.8,199.7 339.2,241.2 339.2,192.6 339.8,241.2 339.8,205.8 340.2,241.2 340.2,203.1 340.8,188.8 340.8,241.2 341.2,241.2 341.2,180.7 341.8,194.8 341.8,241.2 342.2,201.9 342.2,241.2 342.8,185.9 342.8,241.2 343.2,241.2 343.2,193.4 343.8,241.2 343.8,180.5 344.2,196.5 344.2,241.2 344.8,241.2 344.8,191 345.2,197.6 345.2,241.2 345.8,241.2 345.8,187.6 346.2,172.3 346.2,241.2 346.8,241.2 346.8,172.3 347.2,202.1 347.2,241.2 347.8,185.6 347.8,241.2 348.2,173.7 348.2,241.2 348.8,178.2 348.8,241.2 349.2,241.2 349.2,198.1 349.8,220.7 349.8,172.3 350.2,241.2 350.2,197.5 350.8,241.2 350.8,207.7 351.2,241.2 351.2,202.7 351.8,241.2 351.8,178.7 352.2,187.7 352.2,241.2 352.8,241.2 352.8,190 353.2,241.2 353.2,186.9 353.8,186.8 353.8,241.2 354.2,241.2 354.2,207.2" fill="none" stroke="#FF0000" stroke-width="1.7" stroke-linejoin="round"/>
<polyline points="168.3,141 171.6,142.1 174.7,142.2 177.5,140.7 180.2,140.4 182.7,141.2 185,142.7 187.2,143.1 189.2,143 191.2,141.3 193.1,142.6 194.9,142.2 196.6,143.7 198.2,143.8 199.8,144.5 201.3,145.8 202.8,146.7 204.2,146.2 205.5,146.7 206.8,148.1 208.1,147 209.3,146.8 210.5,148.7 211.7,148 212.8,147.3 213.9,148.4 215,148.9 216,148.6 217,148.5 218,150.1 218.9,151.6 219.9,150.3 220.8,150.1 221.7,151.7 222.6,152.6 223.4,151.4 224.2,152.9 225.1,154.1 225.9,152.3 226.6,152 227.4,153.7 228.2,153.8 228.9,155.7 229.6,152.4 230.4,153.4 231.1,153.3 231.8,152.5 232.4,155 233.1,156 233.8,154.2 234.4,158.2 235,157.2 235.7,157 236.3,156.7 236.9,158.1 237.5,154.5 238.1,157.8 238.6,157.9 239.2,154.4 239.8,157.7 240.3,156.8 240.9,159.1 241.4,156.8 241.9,157.6 242.5,158.5 243,156.7 243.5,159.5 244,158.1 244.5,159.5 245,157.7 245.5,161.3 246,160.3 246.4,158.7 246.9,160.7 247.4,162.5 247.8,164.1 248.3,157.2 248.7,162.1 249.2,161.1 249.6,159.9 250,158.6 250.5,163.7 250.9,158.4 251.3,162.2 251.7,164.3 252.1,158.3 252.5,160.5 252.9,159 253.3,162 253.7,165.7 254.1,167.4 254.5,158.6 254.9,160.8 255.3,164 255.7,166.7 256,163.4 256.4,161 256.8,163.3 257.1,162.5 257.5,162.3 257.8,161.5 258.2,164.1 258.5,164 258.9,163 259.2,162.8 259.6,161 259.9,162.6 260.2,167.4 260.6,163.4 260.9,161.2 261.2,168.4 261.6,166 261.9,171.2 262.2,164.8 262.5,163.9 262.8,162.1 263.1,169.4 263.4,173.7 263.7,163.8 264.1,164.3 264.4,167.7 264.7,164.2 264.9,165.4 265.2,165.4 265.5,166.9 265.8,170.1 266.1,166.6 266.4,169.8 266.7,166 267,168.1 267.2,163.1 267.5,164.3 267.8,170.2 268.1,166.3 268.3,169.7 268.6,169.7 268.9,172.6 269.2,170.9 269.4,171.8 269.7,168.1 269.9,167 270.2,167.1 270.5,167.7 270.7,166.5 271,167.8 271.2,168.9 271.5,170.1 271.7,168.6 272,165.4 272.2,169.5 272.5,170.6 272.7,173.8 273,172.1 273.2,168.7 273.4,168.6 273.7,177.8 273.9,173.3 274.2,177.4 274.4,178.6 274.6,169 274.8,172.4 275.1,172.8 275.3,173.3 275.8,173.3 275.8,172.1 276.2,168.2 276.4,171.3 276.7,170.1 276.9,172.4 277.1,171 277.3,174.5 277.8,175.4 277.8,173.6 278.2,172.9 278.4,171.7 278.6,172.4 278.8,171.8 279.2,173.2 279.2,175.5 279.6,170.2 279.8,176.9 280.2,171.7 280.2,173.3 280.6,172.5 280.8,175.1 281.2,172.7 281.2,171.6 281.6,179.6 281.8,174.6 282.2,174.6 282.2,171 282.8,182 282.8,171.2 283.1,177.3 283.3,171.7 283.8,176.5 283.8,179.4 284.2,179.5 284.2,176.4 284.8,175.6 284.8,178.6 285.2,173.8 285.3,179.6 285.8,173.7 285.8,178.2 286.2,184.3 286.2,175.6 286.8,180.3 286.8,176 287.2,172 287.2,178.7 287.8,176 287.8,173.8 288.2,173.7 288.2,182.7 288.8,187.3 288.8,178.7 289.2,173 289.2,180 289.8,181.8 289.8,178 290.2,182.9 290.2,174.9 290.8,179 290.8,186.2 291.2,190.8 291.2,179.1 291.8,187.5 291.8,179.7 292.2,185.9 292.2,194.2 292.8,179.2 292.8,190 293.2,192.4 293.2,177.3 293.8,185.7 293.8,177.7 294.2,191 294.2,178 294.8,181.2 294.8,175.2 295.2,188 295.2,184 295.8,182.9 295.8,192.7 296.2,188.3 296.2,179.6 296.8,181.3 296.8,196.3 297.2,187.5 297.2,182 297.8,177.9 297.8,196.1 298.2,178 298.2,187.1 298.8,216.4 298.8,179.9 299.2,189.2 299.2,177.5 299.8,180.9 299.8,201.2 300.2,212.6 300.2,183.3 300.8,182.6 300.8,195 301.2,183.7 301.2,211.3 301.8,199.2 301.8,177.3 302.2,187.2 302.2,205.8 302.8,188.3 302.8,200.5 303.2,186.8 303.2,200.6 303.8,185.9 303.8,178.1 304.2,188.1 304.2,199.3 304.8,178.3 304.8,194.8 305.2,207.5 305.2,178.6 305.8,199.5 305.8,189.5 306.2,181.7 306.2,194.8 306.8,189.9 306.8,198.3 307.2,187.5 307.2,208.4 307.8,201 307.8,186.8 308.2,197.7 308.2,183.9 308.8,208 308.8,179.6 309.2,188.9 309.2,208.2 309.8,197.9 309.8,187.4 310.2,217.2 310.2,189.4 310.8,206.2 310.8,190.3 311.2,216 311.2,183.9 311.8,195.3 311.8,185.6 312.2,183.2 312.2,217.8 312.8,185 312.8,209.1 313.2,205.7 313.2,183.7 313.8,210.9 313.8,190.6 314.2,193.3 314.2,215.7 314.8,202.9 314.8,183.3 315.2,224.7 315.2,182.8 315.8,216.4 315.8,186.3 316.2,213.8 316.2,186.7 316.8,210.8 316.8,183.6 317.2,189.9 317.2,211.6 317.8,213.9 317.8,189.8 318.2,226.4 318.2,191.8 318.8,193.4 318.8,210.2 319.2,198.1 319.2,239.9 319.8,219.4 319.8,190.2 320.2,217.9 320.2,188.9 320.8,193.9 320.8,241.2 321.2,194 321.2,209.6 321.8,216.4 321.8,191 322.2,241.2 322.2,200.5 322.8,220.6 322.8,197.6 323.2,239 323.2,189.7 323.8,205.1 323.8,192 324.2,194.7 324.2,241.2 324.8,194 324.8,231.4 325.2,187 325.2,235.8 325.8,210.9 325.8,187.3 326.2,236.9 326.2,199.3 326.8,228.1 326.8,192.5 327.2,233 327.2,196.7 327.8,208.4 327.8,227.3 328.2,191.7 328.2,221.9 328.8,233.1 328.8,196.8 329.2,223.6 329.2,193.4 329.8,202 329.8,241.2 330.2,240.4 330.2,202.1 330.8,188.8 330.8,241.2 331.2,241.2 331.2,189 331.8,193.3 331.8,229.5 332.2,241.2 332.2,196.7 332.8,190.5 332.8,241.2 333.2,196.5 333.2,234.7 333.8,241.2 333.8,200.1 334.2,205.6 334.2,232.9 334.8,205.4 334.8,241.2 335.2,241.2 335.2,198.8 335.8,214.3 335.8,202 336.2,202.4 336.2,241.2 336.8,230.2 336.8,196 337.2,199.5 337.2,232.2 337.8,241.2 337.8,192.7 338.2,195.9 338.2,223.4 338.8,202.8 338.8,241.2 339.2,241.2 339.2,205.3 339.8,241.2 339.8,192.4 340.2,241.2 340.2,195.2 340.8,199.4 340.8,241.2 341.2,210.1 341.2,241.2 341.8,241.2 341.8,191.4 342.2,198.4 342.2,241.2 342.8,200.9 342.8,241.2 343.2,197.2 343.2,241.2 343.8,221.2 343.8,191.5 344.2,241.2 344.2,201.7 344.8,229.9 344.8,191.7 345.2,241.2 345.2,209 345.8,241.2 345.8,200.3 346.2,241.2 346.2,215.3 346.8,241.2 346.8,212 347.2,199.7 347.2,229.4 347.8,194.7 347.8,211.7 348.2,197.3 348.2,241.2 348.8,211 348.8,241.2 349.2,241.2 349.2,205.4 349.8,216.4 349.8,241.2 350.2,200 350.2,241.2 350.8,241.2 350.8,192.6 351.2,241.2 351.2,199.2 351.8,241.2 351.8,207.7 352.2,199 352.2,241.2 352.8,241.2 352.8,202.5 353.2,241.2 353.2,201.7 353.8,222.9 353.8,193 354.2,241.2 354.2,203.6 354.8,198.8 354.8,241.2 355.2,232.8 355.2,200.5 355.8,205.4 355.8,241.2 356.2,211.2 356.2,235.7 356.8,241.2 356.8,198.2 357.2,199.1 357.2,241.2 357.8,241.2 357.8,199.6 358.2,216.4 358.2,195.2 358.8,241.2 358.8,193.7 359.2,219.5 359.2,201.8 359.8,241.2 359.8,211 360.2,203.8 360.2,223.2 360.8,194 360.8,241.2 361.2,236.5 361.2,194 361.8,241.2 361.8,200.5 362.2,241.2 362.2,202.3 362.8,241.2 362.8,202.5 363.2,241.2 363.2,200 363.8,212.3 363.8,224.3 364.2,241.2 364.2,194.5 364.8,212.8 364.8,241.2 365.2,196.6 365.2,241.2 365.8,241.2 365.8,204.6 366.2,239.4 366.2,207.7 366.8,207.7 366.8,241.2 367.2,241.2 367.2,201.3 367.8,241.2 367.8,209 368.2,204.8 368.2,241.2 368.8,205.3 368.8,241.2 369.2,241.2 369.2,206.1 369.8,241.2 369.8,202.1 370.2,200.1 370.2,241.2 370.8,241.2 370.8,195.4 371.2,241.2 371.2,201.7 371.8,210.4 371.8,241.2 372.2,241.2 372.2,196.5 372.8,198.9 372.8,241.2" fill="none" stroke="#000000" stroke-width="1.7" stroke-linejoin="round"/>
</g>
<g clip-path="url(#cb)">
<polyline points="65.6,288.8 68.9,287.2 72,288.3 74.8,288 77.4,289.9 79.9,290.1 82.2,290.8 84.3,292.5 86.4,292.3 88.3,292.7 90.2,293.8 91.9,294.1 93.6,294.4 95.2,295.8 96.8,296.7 98.2,295.9 99.7,297.5 101,298.1 102.4,298.4 103.6,298 104.9,298.9 106.1,299.3 107.2,300.1 108.4,299.5 109.5,300.8 110.5,301.6 111.6,299.9 112.6,301.6 113.5,300.9 114.5,301.9 115.4,301.9 116.3,303.6 117.2,302.6 118.1,303.5 118.9,302.3 119.8,303.5 120.6,304.5 121.4,303 122.2,304.1 122.9,304.1 123.7,303.8 124.4,303.2 125.1,304.3 125.8,304 126.5,304.9 127.2,305.2 127.9,306 128.5,304.3 129.2,305.9 129.8,305.9 130.5,305.6 131.1,306.3 131.7,306.1 132.3,306.8 132.9,306.8 133.4,306.3 134,306.9 134.6,307.7 135.1,306.7 135.7,307.2 136.2,308.9 136.7,308.1 137.3,307.5 137.8,307.7 138.3,309.6 138.8,308.8 139.3,307.4 139.8,309.2 140.2,308.3 140.7,308.9 141.2,308.1 141.7,309.1 142.1,308.9 142.6,308.8 143,310.6 143.5,312.3 143.9,310.5 144.3,310.3 144.8,309.5 145.2,310.3 145.6,310.2 146,309.6 146.4,311.5 146.8,311.1 147.2,310.8 147.6,310.5 148,312 148.4,313.2 148.8,312 149.2,311.7 149.6,312.8 149.9,311.7 150.3,311.1 150.7,314.5 151,314.6 151.4,312.7 151.8,313.2 152.1,315 152.5,312.7 152.8,313.6 153.2,314.6 153.5,315.7 153.8,313.4 154.2,313.5 154.5,314.4 154.8,313.9 155.2,316.2 155.5,314.1 155.8,314.9 156.1,315 156.4,314.8 156.7,313.9 157.1,316.8 157.4,315.6 157.7,316.3 158,316.3 158.3,315.3 158.6,315.5 158.9,315.6 159.2,317.5 159.5,315.8 159.7,314.6 160,316.1 160.3,315.8 160.6,317.8 160.9,316.2 161.2,317.4 161.4,316.9 161.7,317.3 162,316.4 162.3,316.9 162.5,317.3 162.8,318.1 163.1,318.1 163.3,316.7 163.6,317.5 163.8,319.2 164.1,318.9 164.4,317.6 164.6,317.7 164.9,320.5 165.1,319.4 165.4,317 165.6,321.6 165.9,319.7 166.1,319.2 166.3,318.4 166.6,318 166.8,318.5 167.1,318.4 167.3,318.2 167.5,317.5 167.8,321.5 168.2,321.5 168.2,319.9 168.7,319.2 168.9,319.5 169.1,319.9 169.4,319.2 169.6,320.6 169.8,320.2 170.2,320 170.2,320.7 170.7,322.1 170.9,320.4 171.1,319.8 171.3,321.4 171.8,324 171.8,322.6 172.2,320 172.4,320.6 172.6,319.9 172.8,321.6 173.2,320.6 173.2,324.4 173.6,323.3 173.8,321.5 174.2,323.5 174.2,320 174.8,322.6 174.8,326.2 175.2,323.6 175.4,322.3 175.8,322.2 175.8,323.4 176.1,322.2 176.3,325.4 176.8,321.4 176.8,324 177.2,322.8 177.2,325.2 177.8,321.8 177.8,322.7 178.2,325.3 178.2,327.3 178.7,323.7 178.8,324.2 179.2,325.1 179.2,323.6 179.8,326.8 179.8,324.3 180.2,328.5 180.2,325.3 180.8,323.2 180.8,325.6 181.2,326.1 181.2,329.9 181.8,323.6 181.8,326.9 182.2,324.1 182.2,326.1 182.8,328.5 182.8,324 183.2,328.5 183.2,324.9 183.8,328.9 183.8,326 184.2,329.6 184.2,327.1 184.8,329.9 184.8,327 185.2,323.7 185.2,326 185.8,328.6 185.8,326.2 186.2,329.3 186.2,327 186.8,329.1 186.8,327.7 187.2,334.4 187.2,325.6 187.8,326 187.8,335.3 188.2,331.2 188.2,326.3 188.8,325.9 188.8,332.1 189.2,332.6 189.2,328.9 189.8,327.4 189.8,334 190.2,329.3 190.2,331.2 190.8,328.6 190.8,330.2 191.2,337.5 191.2,329.9 191.8,326.3 191.8,331.4 192.2,330.6 192.2,329.9 192.8,352.4 192.8,327.8 193.2,334.4 193.2,329.1 193.8,332.5 193.8,335.3 194.2,337.1 194.2,334 194.8,336.2 194.8,329.3 195.2,326.9 195.2,338.6 195.8,338.6 195.8,330.8 196.2,341.5 196.2,333 196.8,332.9 196.8,338 197.2,332.5 197.2,336.3 197.8,331.5 197.8,335.7 198.2,333.3 198.2,337 198.8,334.9 198.8,339.5 199.2,333.5 199.2,342.9 199.8,331.6 199.8,337.6 200.2,344.2 200.2,333.9 200.8,338.7 200.8,333.1 201.2,340.8 201.2,335.2 201.8,332.7 201.8,338.7 202.2,342.3 202.2,336.1 202.8,346.6 202.8,335.3 203.2,340.3 203.2,333.8 203.8,345.1 203.8,338.3 204.2,333 204.2,342.1 204.8,340.9 204.8,332.3 205.2,334.9 205.2,363.3 205.8,344.5 205.8,337.2 206.2,347.1 206.2,334.6 206.8,347.9 206.8,334.6 207.2,338.2 207.2,345.1 207.8,357.3 207.8,338.4 208.2,345.3 208.2,333.4 208.8,337.3 208.8,342.6 209.2,345.4 209.2,338.3 209.8,349.9 209.8,337.7 210.2,338.4 210.2,345 210.8,336.3 210.8,349.8 211.2,348.7 211.2,339.5 211.8,341.8 211.8,347.7 212.2,341.2 212.2,349.7 212.8,341.9 212.8,348.6 213.2,340.7 213.2,356.1 213.8,343.2 213.8,348.3 214.2,339.5 214.2,349.6 214.8,342.8 214.8,348.2 215.2,343.4 215.2,354 215.8,340.9 215.8,348.7 216.2,371.4 216.2,340.7 216.8,352.7 216.8,346.2 217.2,342.9 217.2,350.8 217.8,350.7 217.8,344.9 218.2,342.6 218.2,351.9 218.8,342.1 218.8,359 219.2,343.7 219.2,355.4 219.8,344.3 219.8,354.4 220.2,358.3 220.2,346.3 220.8,354.2 220.8,344.4 221.2,348.9 221.2,360.3 221.8,355.5 221.8,342.2 222.2,347.7 222.2,360.8 222.8,361.4 222.8,346.2 223.2,345.4 223.2,367.6 223.8,358.2 223.8,347.8 224.2,349.3 224.2,385.1 224.8,356.9 224.8,346.7 225.2,385.7 225.2,351.4 225.8,348.1 225.8,370.3 226.2,349.8 226.2,364 226.8,351.3 226.8,361 227.2,355.4 227.2,361.7 227.8,366.8 227.8,347.6 228.2,376.2 228.2,352.2 228.8,350.1 228.8,388.8 229.2,346.8 229.2,373.1 229.8,350.5 229.8,365.2 230.2,370.2 230.2,351.9 230.8,353.4 230.8,391.6 231.2,366.3 231.2,354.7 231.8,352.1 231.8,361 232.2,348 232.2,365.1 232.8,359.7 232.8,353.6 233.2,350.9 233.2,363.1 233.8,362.2 233.8,347.3 234.2,349.7 234.2,360.6 234.8,349 234.8,370.9 235.2,358.3 235.2,369.1 235.8,360.8 235.8,353.4 236.2,394.5 236.2,357.4 236.8,387.5 236.8,356.1 237.2,366 237.2,351.5 237.8,348 237.8,361.9 238.2,358.1 238.2,367.1 238.8,348.6 238.8,373.9 239.2,368.8 239.2,355.4 239.8,353.6 239.8,368.8 240.2,356.4 240.2,371.1 240.8,352.8 240.8,367.9 241.2,377.3 241.2,355.1 241.8,349.4 241.8,371 242.2,371.5 242.2,348.2 242.8,397.9 242.8,354.4 243.2,348.5 243.2,371.2 243.8,354.4 243.8,399.2 244.2,353.7 244.2,375.5 244.8,351.1 244.8,369.8 245.2,354.6 245.2,377.1 245.8,358.1 245.8,394.5 246.2,350.5 246.2,368 246.8,372.3 246.8,352 247.2,366.1 247.2,354.1 247.8,403.6 247.8,359.4 248.2,371.5 248.2,352.1 248.8,357.5 248.8,375.2 249.2,378 249.2,360.8 249.8,401.8 249.8,360 250.2,348.7 250.2,373.4 250.8,356.4 250.8,383.4 251.2,360 251.2,404 251.8,351.1 251.8,362.1 252.2,360.9 252.2,395.7 252.8,403.8 252.8,351.7 253.2,351.3 253.2,364.1 253.8,355.5 253.8,393.5 254.2,383.2 254.2,355.1 254.8,360.3 254.8,410.2 255.2,354.2 255.2,379.8 255.8,398.6 255.8,357.8 256.2,365.8 256.2,356.5 256.8,400.2 256.8,352.4 257.2,354.7 257.2,374.2 257.8,375.6 257.8,357.7 258.2,373.4 258.2,359.6 258.8,370.1 258.8,357.4 259.2,359.5 259.2,366.7 259.8,360.6 259.8,391.3 260.2,357.9 260.2,401.8 260.8,415.5 260.8,355.4 261.2,358.3 261.2,411.9 261.8,357.5 261.8,372.7 262.2,360.9 262.2,416.3 262.8,359 262.8,391.6 263.2,404.5 263.2,358.6 263.8,380.7 263.8,355.2" fill="none" stroke="#000080" stroke-width="1.7" stroke-linejoin="round"/>
<polyline points="75.1,312.7 78.4,312.5 81.5,314.5 84.3,315 86.9,315.1 89.4,314.3 91.7,314.7 93.8,315 95.9,316.5 97.8,316.5 99.7,316.3 101.4,317.2 103.1,318.1 104.7,317.8 106.3,317.4 107.7,318.2 109.2,318.4 110.5,318.1 111.9,318.2 113.1,319.6 114.4,319.3 115.6,320.4 116.7,320 117.9,321.3 119,321.6 120,321.4 121.1,320.7 122.1,320.4 123,323.4 124,321.7 124.9,323.6 125.8,321.9 126.7,321.5 127.6,322.2 128.4,321.8 129.3,322.7 130.1,324.4 130.9,324 131.7,326.1 132.4,324 133.2,324.2 133.9,323.6 134.6,323.8 135.3,324.8 136,324.3 136.7,324.9 137.4,325.1 138,324.9 138.7,327.9 139.3,325 140,326.5 140.6,327.5 141.2,327.9 141.8,326.8 142.4,326.7 142.9,329.8 143.5,329.8 144.1,328.1 144.6,328.2 145.2,328.4 145.7,327.8 146.2,328.6 146.8,329.8 147.3,329.7 147.8,328.6 148.3,330 148.8,328.9 149.3,328.6 149.7,330.1 150.2,330.5 150.7,331.4 151.2,329.6 151.6,331.3 152.1,331 152.5,330.9 153,330.5 153.4,330.8 153.8,331.6 154.3,331.6 154.7,330.8 155.1,331.3 155.5,331.7 155.9,333 156.3,332.6 156.7,332.3 157.1,332.3 157.5,334.2 157.9,332.5 158.3,332.4 158.7,332.8 159.1,333.6 159.4,333.4 159.8,333.2 160.2,333.4 160.5,334.4 160.9,334.4 161.3,334.4 161.6,333.7 162,334.4 162.3,335.8 162.7,334.2 163,336.6 163.3,335.2 163.7,336.1 164,334.6 164.3,336.8 164.7,335.6 165,336.1 165.3,336.5 165.6,337.6 165.9,335.9 166.2,336.8 166.6,336.5 166.9,335.5 167.2,335.8 167.5,335.8 167.8,336.7 168.1,337.2 168.4,337.6 168.7,338.2 169,337.6 169.2,336.6 169.5,339.4 169.8,337.8 170.1,337.3 170.4,336.8 170.7,338.5 170.9,337 171.2,339.4 171.5,338.5 171.8,337.2 172,338.1 172.3,340.5 172.6,337.4 172.8,338.4 173.1,337.4 173.3,339 173.6,341 173.9,339 174.1,339.1 174.4,339.1 174.6,339.2 174.9,339.2 175.1,340.3 175.4,340.8 175.6,338.2 175.8,338.1 176.1,341.1 176.3,341.2 176.6,339.2 176.8,340.1 177,340.8 177.3,341.3 177.8,341 177.8,340.7 178.2,341.8 178.4,341 178.6,341 178.9,341 179.1,340.8 179.3,342.2 179.8,341.9 179.8,341.5 180.2,342.7 180.4,342.2 180.6,341.1 180.8,340.2 181.2,341.7 181.2,344.9 181.7,344.1 181.9,343.4 182.1,345.6 182.3,342.1 182.8,343.8 182.8,342.7 183.1,342.7 183.3,343.5 183.8,344.6 183.8,341.5 184.2,345.6 184.2,342.8 184.7,342.7 184.9,343.9 185.2,344.2 185.2,343.2 185.6,344.1 185.8,344.8 186.2,341.8 186.2,344.7 186.8,342.9 186.8,345.4 187.2,343.6 187.2,345.5 187.8,345.6 187.8,343 188.2,344 188.3,342.7 188.8,346.1 188.8,344.5 189.2,345.9 189.2,345.5 189.8,343.5 189.8,346.3 190.2,344 190.2,347.7 190.8,348.2 190.8,345.6 191.2,346.9 191.2,345.6 191.8,347.1 191.8,344.6 192.2,346 192.2,349.9 192.8,345.4 192.8,348.9 193.2,348.2 193.2,346.1 193.8,345.9 193.8,350.8 194.2,346.5 194.2,352 194.8,361.2 194.8,347.4 195.2,349.2 195.2,347.1 195.8,350.3 195.8,348 196.2,349.8 196.2,348.9 196.8,347 196.8,352.5 197.2,350.5 197.2,347.5 197.8,346.2 197.8,349.1 198.2,352.2 198.2,349.3 198.8,353.4 198.8,348.8 199.2,348.4 199.2,352.3 199.8,350.5 199.8,355.2 200.2,352.1 200.2,349.2 200.8,349.9 200.8,352.7 201.2,351.3 201.2,350.5 201.8,352.3 201.8,351.1 202.2,350.2 202.2,355.8 202.8,350.3 202.8,353.4 203.2,352.6 203.2,351.4 203.8,354.9 203.8,351.8 204.2,351.4 204.2,352.9 204.8,355 204.8,351.1 205.2,351.4 205.2,353.9 205.8,353.9 205.8,356.1 206.2,352.2 206.2,355.2 206.8,352.3 206.8,357.4 207.2,359.8 207.2,352.6 207.8,348.9 207.8,356.4 208.2,358.2 208.2,354.2 208.8,356.9 208.8,353.9 209.2,355.7 209.2,365.2 209.8,351.4 209.8,360.3 210.2,354.2 210.2,358.7 210.8,354.4 210.8,371.8 211.2,359.4 211.2,352.7 211.8,364.5 211.8,355.2 212.2,380.9 212.2,353.2 212.8,357.9 212.8,359.4 213.2,363.2 213.2,355.7 213.8,363.9 213.8,357.1 214.2,364 214.2,358.1 214.8,361.6 214.8,357.6 215.2,357.3 215.2,362.6 215.8,360 215.8,363.7 216.2,361.9 216.2,368.1 216.8,385.5 216.8,360.6 217.2,368.4 217.2,358.8 217.8,365.3 217.8,359.9 218.2,368.5 218.2,362.5 218.8,361.5 218.8,373.6 219.2,361.4 219.2,371.9 219.8,383.6 219.8,363.1 220.2,367.9 220.2,363.1 220.8,363.9 220.8,371.9 221.2,366.8 221.2,360.7 221.8,367.6 221.8,362.8 222.2,370.3 222.2,360.6 222.8,364.7 222.8,369.7 223.2,364.8 223.2,372 223.8,370 223.8,362 224.2,366.3 224.2,372.6 224.8,367.5 224.8,372.3 225.2,366 225.2,372.1 225.8,369.6 225.8,359.9 226.2,364.1 226.2,374.4 226.8,364.7 226.8,374 227.2,369.1 227.2,364.3 227.8,366.4 227.8,372.5 228.2,369.8 228.2,365.4 228.8,365.9 228.8,372.8 229.2,373.2 229.2,365.6 229.8,377.8 229.8,361.5 230.2,373.2 230.2,367.8 230.8,364.9 230.8,396.2 231.2,365.3 231.2,379.2 231.8,390.2 231.8,367.2 232.2,398.3 232.2,363.1 232.8,366.5 232.8,374.9 233.2,365.4 233.2,402 233.8,373.8 233.8,367.6 234.2,404.9 234.2,366.7 234.8,368.2 234.8,376.9 235.2,366.1 235.2,376.5 235.8,362.7 235.8,373.4 236.2,366.5 236.2,372 236.8,383.7 236.8,370.2 237.2,367.8 237.2,374.4 237.8,367.3 237.8,389.3 238.2,366.7 238.2,405.5 238.8,375.1 238.8,368.1 239.2,379.2 239.2,368.7 239.8,381.2 239.8,368.2 240.2,382.2 240.2,371.4 240.8,374 240.8,409 241.2,385.9 241.2,366.5 241.8,372.5 241.8,386.2 242.2,374.1 242.2,377.9 242.8,367.8 242.8,381.6 243.2,373 243.2,384.7 243.8,377.9 243.8,369.5 244.2,381.7 244.2,373.2 244.8,402.6 244.8,371 245.2,369.5 245.2,410.9 245.8,370.3 245.8,383.6 246.2,371.3 246.2,409.6 246.8,372.5 246.8,383.4 247.2,370.6 247.2,389.6 247.8,371.8 247.8,381.9 248.2,376.3 248.2,383 248.8,385.5 248.8,373.1 249.2,376.4 249.2,385.4 249.8,382.1 249.8,374.5 250.2,379.4 250.2,374.4 250.8,413.5 250.8,370 251.2,373.2 251.2,385.6 251.8,383.6 251.8,371 252.2,376.1 252.2,385.1 252.8,376 252.8,384.4 253.2,372.6 253.2,385.9 253.8,371.3 253.8,386.7 254.2,387.8 254.2,374.7 254.8,387.3 254.8,375.6 255.2,373.7 255.2,387.7 255.8,390.7 255.8,376.2 256.2,372.4 256.2,383.4 256.8,375.1 256.8,384.1 257.2,378.7 257.2,390.4 257.8,392.9 257.8,380.7 258.2,378.8 258.2,383.6 258.8,405.8 258.8,380 259.2,392.2 259.2,377.8 259.8,400.2 259.8,382.9 260.2,377.8 260.2,420.3 260.8,392.6 260.8,378.5 261.2,395.2 261.2,376.7 261.8,375.6 261.8,386.7 262.2,380.9 262.2,392.6 262.8,387.6 262.8,379.9 263.2,379.8 263.2,396.6 263.8,380.5 263.8,411.1 264.2,377.9 264.2,414.7 264.8,394.2 264.8,378.1 265.2,379.5 265.2,394.6 265.8,376.9 265.8,386 266.2,378.7 266.2,389.5 266.8,393.7 266.8,380.6 267.2,382.2 267.2,429 267.8,378.2 267.8,390.8 268.2,393.4 268.2,379.5 268.8,376.8 268.8,393.5 269.2,422.5 269.2,381.4 269.8,379 269.8,398.4 270.2,430.3 270.2,379.5 270.8,386.1 270.8,421 271.2,397.6 271.2,384.5 271.8,376.2 271.8,434.4 272.2,403.5 272.2,384 272.8,391.1 272.8,378.6 273.2,436 273.2,385 273.8,380.6 273.8,434.2 274.2,395.7 274.2,379.1 274.8,381.6 274.8,390.7 275.2,380.3 275.2,407.5 275.8,377.8 275.8,401.5" fill="none" stroke="#FF00FF" stroke-width="1.7" stroke-linejoin="round"/>
<polyline points="92.6,332.4 95.9,332 99,331.5 101.8,331.4 104.4,333.1 106.9,334.5 109.2,335.2 111.3,334.7 113.4,337.1 115.3,337.4 117.2,336.2 118.9,336.7 120.6,338 122.2,337.9 123.8,338.8 125.2,340.3 126.7,340.9 128,340.3 129.4,340.9 130.6,341.3 131.9,341.8 133.1,342.1 134.2,342 135.4,343.1 136.5,342.7 137.5,342.9 138.6,342.1 139.6,342.6 140.5,343.1 141.5,344.1 142.4,343.6 143.3,345.7 144.2,344.7 145.1,345.1 145.9,345.2 146.8,345.8 147.6,346.4 148.4,345.6 149.2,347.5 149.9,345.9 150.7,347 151.4,346.6 152.1,346.8 152.8,347.6 153.5,347.4 154.2,348.8 154.9,347.1 155.5,348 156.2,348.2 156.8,349.8 157.5,349.5 158.1,348.7 158.7,349.8 159.3,349.1 159.9,348 160.4,348.8 161,349.8 161.6,348.5 162.1,350.4 162.7,349.4 163.2,348.9 163.7,349.8 164.3,348.6 164.8,349.3 165.3,349.2 165.8,350.5 166.3,349.6 166.8,349.4 167.2,350.7 167.7,350.3 168.2,350.3 168.7,350.5 169.1,352.1 169.6,351.3 170,350.8 170.5,354.2 170.9,352 171.3,353.6 171.8,352.9 172.2,353.3 172.6,351.5 173,351.9 173.4,353 173.8,352.4 174.2,352.7 174.6,353.9 175,351.4 175.4,352.8 175.8,354.9 176.2,352.9 176.6,353.4 176.9,353.9 177.3,354 177.7,354.1 178,353.2 178.4,354.4 178.8,353.7 179.1,356.2 179.5,353.9 179.8,354.8 180.2,354.4 180.5,356.1 180.8,354.9 181.2,355.8 181.5,354.6 181.8,354.8 182.2,354.5 182.5,355.2 182.8,355.2 183.1,354.6 183.4,354.6 183.7,356 184.1,355.8 184.4,355.5 184.7,355.4 185,355.4 185.3,356.6 185.6,356.1 185.9,356.2 186.2,356.3 186.5,356.5 186.7,356.8 187,357.3 187.3,355.8 187.6,357.2 187.9,356.5 188.2,357.3 188.4,359.7 188.7,356.2 189,356.8 189.3,357.7 189.5,356.1 189.8,362.1 190.1,357.9 190.3,361.1 190.6,358.6 190.8,360.7 191.1,360.2 191.4,358.7 191.6,359.9 191.9,358.6 192.1,358.9 192.4,361.9 192.6,358.7 192.9,358.8 193.1,363.9 193.3,359.5 193.6,360.4 193.8,362.8 194.1,359.6 194.3,359.6 194.5,363.3 194.8,360.3 195.2,360.2 195.2,361.5 195.7,359.1 195.9,361 196.1,362.5 196.4,362.5 196.6,360.4 196.8,362.1 197.2,364.8 197.2,361.4 197.7,360.9 197.9,359.6 198.1,362.8 198.3,360.5 198.8,360.9 198.8,361.8 199.2,361.7 199.4,363.9 199.6,362.2 199.8,362.1 200.2,363.8 200.2,360.8 200.6,359.8 200.8,361.5 201.2,363.1 201.2,364.9 201.8,363.4 201.8,363.4 202.2,362.1 202.4,362.4 202.8,363.3 202.8,362 203.1,362.6 203.3,363.7 203.8,363.1 203.8,363 204.2,361.9 204.2,362.7 204.8,365.5 204.8,364.4 205.2,365.6 205.2,361.4 205.7,363.6 205.8,366 206.2,364.9 206.2,368.1 206.8,367.1 206.8,363.7 207.2,363.9 207.2,365.6 207.8,365.3 207.8,366.7 208.2,365.7 208.2,366.6 208.8,363.6 208.8,366.8 209.2,367.8 209.2,366 209.8,367.5 209.8,364.3 210.2,368.5 210.2,367.3 210.8,371.8 210.8,365 211.2,374.6 211.2,364.4 211.8,369.5 211.8,366.9 212.2,369.6 212.2,372.3 212.8,367.7 212.8,370 213.2,374.7 213.2,367 213.8,370.4 213.8,368.6 214.2,368.4 214.2,372.3 214.8,368.4 214.8,374.3 215.2,369.1 215.2,370.8 215.8,369.1 215.8,371.1 216.2,374.7 216.2,369.3 216.8,367.3 216.8,370.8 217.2,369.7 217.2,382.1 217.8,375.3 217.8,369.3 218.2,368 218.2,375 218.8,369.3 218.8,373 219.2,375.4 219.2,371.4 219.8,371.2 219.8,375 220.2,371 220.2,373.1 220.8,372 220.8,375.7 221.2,373.6 221.2,372.3 221.8,373.8 221.8,372.5 222.2,376.9 222.2,374.4 222.8,371.6 222.8,372.8 223.2,378.4 223.2,372 223.8,375.5 223.8,372.3 224.2,374.8 224.2,378.1 224.8,376.7 224.8,375.4 225.2,377.7 225.2,375.3 225.8,372.8 225.8,380.6 226.2,373.8 226.2,378.6 226.8,381.2 226.8,372.2 227.2,374.4 227.2,379.6 227.8,375.3 227.8,383.3 228.2,374.8 228.2,397.3 228.8,379.1 228.8,375.8 229.2,379.7 229.2,376.2 229.8,379.1 229.8,375.1 230.2,383.3 230.2,376.6 230.8,373.4 230.8,378.1 231.2,376.5 231.2,383.1 231.8,373.9 231.8,383.2 232.2,401.4 232.2,377.4 232.8,382.6 232.8,374.3 233.2,385.9 233.2,374.9 233.8,384.9 233.8,377.1 234.2,378.5 234.2,404.8 234.8,375.8 234.8,387.4 235.2,377 235.2,386 235.8,378.4 235.8,393.6 236.2,396.8 236.2,380.8 236.8,381.8 236.8,377.3 237.2,376 237.2,407 237.8,384.6 237.8,378.7 238.2,380 238.2,388.9 238.8,389.3 238.8,375.2 239.2,384.6 239.2,380.9 239.8,381.8 239.8,391.4 240.2,385 240.2,377.7 240.8,384.4 240.8,381 241.2,390.4 241.2,379.5 241.8,378.2 241.8,393.4 242.2,383.1 242.2,388.3 242.8,397.2 242.8,383.6 243.2,389.3 243.2,380.6 243.8,376.5 243.8,385.6 244.2,408.8 244.2,385.2 244.8,380 244.8,386 245.2,386.5 245.2,403 245.8,398.2 245.8,389.6 246.2,419.6 246.2,381.9 246.8,427.5 246.8,389.4 247.2,388.7 247.2,382.4 247.8,385.5 247.8,392.2 248.2,380.4 248.2,391.9 248.8,425.8 248.8,386.9 249.2,384.6 249.2,389.6 249.8,395.9 249.8,383.7 250.2,390.8 250.2,384.8 250.8,382.6 250.8,398 251.2,383.8 251.2,390.9 251.8,389.8 251.8,419 252.2,386.2 252.2,389.1 252.8,385.4 252.8,388.5 253.2,405.4 253.2,384 253.8,384.8 253.8,391.6 254.2,413.9 254.2,381.9 254.8,387.9 254.8,394.1 255.2,398.3 255.2,384.5 255.8,431.6 255.8,387.4 256.2,385.7 256.2,428.5 256.8,389.2 256.8,399.9 257.2,394.2 257.2,384.5 257.8,386.7 257.8,400.9 258.2,389.7 258.2,397 258.8,388.4 258.8,393.7 259.2,395.6 259.2,386.2 259.8,388.5 259.8,400.1 260.2,387.4 260.2,398.8 260.8,387.3 260.8,389.9 261.2,406.3 261.2,390.7 261.8,391.5 261.8,429.2 262.2,388.5 262.2,435.9 262.8,391.8 262.8,398.4 263.2,385.1 263.2,409.8 263.8,400.3 263.8,386.7 264.2,386.7 264.2,397.7 264.8,384.3 264.8,407.4 265.2,387.8 265.2,395.5 265.8,428.6 265.8,395.9 266.2,393 266.2,436 266.8,400.2 266.8,393.4 267.2,388.2 267.2,399.1 267.8,404.8 267.8,394.5 268.2,399.6 268.2,391.6 268.8,388.2 268.8,405.2 269.2,399.8 269.2,389.3 269.8,399.8 269.8,392.8 270.2,392.8 270.2,426.7 270.8,393.5 270.8,448.1 271.2,397.6 271.2,390.4 271.8,394.2 271.8,446.1 272.2,392.9 272.2,430.3 272.8,397.4 272.8,388.5 273.2,389.2 273.2,401.8 273.8,406.8 273.8,388.2 274.2,430.4 274.2,393.7 274.8,386.8 274.8,395.8 275.2,395.3 275.2,429.1 275.8,398.8 275.8,387.5 276.2,396.9 276.2,429.1 276.8,445.5 276.8,396.3 277.2,447 277.2,397.5 277.8,391.2 277.8,401.3 278.2,393.3 278.2,403.9 278.8,394.1 278.8,453.2 279.2,391.9 279.2,432.4 279.8,413.7 279.8,394.3 280.2,433.5 280.2,391.4 280.8,403.2 280.8,393.3 281.2,394.7 281.2,445.3 281.8,396.8 281.8,406.2 282.2,400.9 282.2,417 282.8,395.1 282.8,404.9 283.2,393.7 283.2,415.8 283.8,390.6 283.8,440.1 284.2,405.6 284.2,398.2 284.8,429.4 284.8,397.3 285.2,396.9 285.2,436.8 285.8,455.3 285.8,393 286.2,446.8 286.2,393.4 286.8,425.7 286.8,395.2 287.2,409.1 287.2,398.5 287.8,409.3 287.8,398 288.2,400.8 288.2,440.1 288.8,416.3 288.8,401.3 289.2,400.9 289.2,408.6 289.8,395.6 289.8,423.2" fill="none" stroke="#00FFFF" stroke-width="1.7" stroke-linejoin="round"/>
<polyline points="115.9,347.8 119.2,347.5 122.3,347.2 125.1,348 127.7,348.3 130.2,348.7 132.5,349.6 134.6,348.9 136.7,350.5 138.6,349.5 140.5,350.2 142.2,351.5 143.9,351.9 145.5,351.5 147.1,353.8 148.5,353.1 150,352.8 151.3,353.8 152.7,353.8 153.9,355 155.2,354.4 156.4,355.9 157.5,354.9 158.7,357.2 159.8,356.8 160.8,358.2 161.9,356.9 162.9,356.6 163.8,357.4 164.8,358.4 165.7,360.7 166.6,359.7 167.5,360.8 168.4,359.4 169.2,360 170.1,360.4 170.9,362 171.7,360.9 172.5,361.4 173.2,363.3 174,361.5 174.7,362.2 175.4,361.6 176.1,362.5 176.8,363.6 177.5,364.2 178.2,362.4 178.8,362 179.5,364.2 180.1,365.5 180.8,363.6 181.4,364.5 182,364.4 182.6,363.3 183.2,363.2 183.7,365 184.3,365.7 184.9,364.5 185.4,365.5 186,365.4 186.5,365.5 187,365.5 187.6,367.8 188.1,366.7 188.6,366.8 189.1,366.8 189.6,367.8 190.1,367.2 190.5,367.9 191,367.4 191.5,368.5 192,368.1 192.4,369.2 192.9,367.5 193.3,368.2 193.8,368.1 194.2,371.1 194.6,368.8 195.1,369.4 195.5,368.2 195.9,368.9 196.3,368.5 196.7,369.8 197.1,369.3 197.5,372.2 197.9,369.6 198.3,371.8 198.7,370.5 199.1,371.4 199.5,370.1 199.9,370.9 200.2,370.9 200.6,370.5 201,372.1 201.3,370.1 201.7,371.4 202.1,371.5 202.4,371.9 202.8,370.9 203.1,372.9 203.5,371.3 203.8,371.7 204.1,371.5 204.5,372.2 204.8,373.4 205.1,377.7 205.5,371 205.8,375.2 206.1,375.5 206.4,376.8 206.7,375.1 207,375.8 207.4,378.3 207.7,375.8 208,376.2 208.3,376.2 208.6,377.2 208.9,379.9 209.2,376.1 209.5,379.4 209.8,375.2 210,378.7 210.3,377.7 210.6,380.8 210.9,380.1 211.2,380.3 211.5,380 211.7,379.7 212,376.9 212.3,380 212.6,378 212.8,381.9 213.1,379.1 213.4,380.1 213.6,379.6 213.9,380.5 214.1,380.9 214.4,381.8 214.7,379.2 214.9,384.4 215.2,379.7 215.4,381.1 215.7,377.8 215.9,382.2 216.2,383.9 216.4,384.7 216.6,383.2 216.9,383.3 217.1,381.4 217.4,381.9 217.6,382.3 217.8,383 218.1,381.3 218.3,382.5 218.8,384.4 218.8,383.3 219.2,382.3 219.4,384.4 219.7,384.3 219.9,387.9 220.1,384.2 220.3,386.9 220.8,382.3 220.8,389.4 221.2,384.7 221.4,384.3 221.6,384 221.8,384.6 222.2,384.4 222.2,386.2 222.7,389 222.9,389.5 223.1,391.3 223.3,387.4 223.8,384.7 223.8,393.6 224.1,381.7 224.3,389.1 224.8,386.6 224.8,385.6 225.2,385.7 225.2,388.2 225.7,387.3 225.9,387.4 226.2,389 226.2,393.8 226.8,389.8 226.8,386.3 227.2,394.9 227.4,395.1 227.8,387.1 227.8,391.5 228.2,388.7 228.2,385.7 228.8,388.9 228.8,391.7 229.2,387.9 229.2,390.5 229.7,389.9 229.8,383.6 230.2,386.7 230.2,393 230.8,395.1 230.8,383.5 231.2,396.4 231.2,389.4 231.8,388.4 231.8,390.8 232.2,388.8 232.2,395.2 232.8,392.3 232.8,390.2 233.2,388.7 233.2,395.3 233.8,389 233.8,394.2 234.2,392.2 234.2,402.4 234.8,400.8 234.8,391.9 235.2,396.6 235.2,402 235.8,419.7 235.8,388.6 236.2,392.9 236.2,401.5 236.8,394.6 236.8,400.3 237.2,401.3 237.2,393.1 237.8,399.5 237.8,392.2 238.2,396.8 238.2,404 238.8,389.1 238.8,401.5 239.2,399.1 239.2,393.9 239.8,393 239.8,402.3 240.2,390 240.2,395.9 240.8,403.9 240.8,393.1 241.2,400.9 241.2,399.7 241.8,401.9 241.8,390.7 242.2,395.5 242.2,404.4 242.8,397.9 242.8,400.9 243.2,393.4 243.2,398.2 243.8,410 243.8,401.3 244.2,408.2 244.2,396.1 244.8,396.7 244.8,424.2 245.2,399.6 245.2,409.8 245.8,402.7 245.8,395.9 246.2,393.1 246.2,407.5 246.8,396.7 246.8,401.6 247.2,400.3 247.2,426.6 247.8,398.9 247.8,444.8 248.2,395.2 248.2,400.8 248.8,391.4 248.8,413.8 249.2,411.3 249.2,398.7 249.8,446.7 249.8,399.4 250.2,413.6 250.2,397 250.8,401.6 250.8,418.3 251.2,401.3 251.2,414 251.8,407.7 251.8,399 252.2,405.7 252.2,408.7 252.8,409.3 252.8,403 253.2,399.6 253.2,408.6 253.8,420.3 253.8,401.8 254.2,403.5 254.2,418.5 254.8,411.9 254.8,403.5 255.2,409.5 255.2,402.7 255.8,403.1 255.8,414.2 256.2,410.7 256.2,402 256.8,402.4 256.8,443.7 257.2,402 257.2,407.6 257.8,398.1 257.8,454.3 258.2,410.7 258.2,399.7 258.8,452.3 258.8,405.2 259.2,403.8 259.2,444.4 259.8,411.1 259.8,397.3 260.2,403.2 260.2,458.9 260.8,437.9 260.8,404.6 261.2,416 261.2,404.4 261.8,404.2 261.8,413 262.2,430 262.2,407.3 262.8,412.3 262.8,443.1 263.2,401.6 263.2,412.5 263.8,417.7 263.8,408.8 264.2,404.7 264.2,415.4 264.8,409.6 264.8,413.3 265.2,416.1 265.2,404.6 265.8,445.1 265.8,408.6 266.2,414.3 266.2,404.8 266.8,418 266.8,401.6 267.2,407.8 267.2,421.6 267.8,440.9 267.8,404.9 268.2,404.7 268.2,418.1 268.8,461.9 268.8,408.1 269.2,463.9 269.2,412.2 269.8,417.7 269.8,400.9 270.2,406.2 270.2,461.4 270.8,403.4 270.8,442.9 271.2,422.4 271.2,403.4 271.8,423.5 271.8,404.5 272.2,407.7 272.2,414.3 272.8,437.5 272.8,404 273.2,412 273.2,408.3 273.8,409.9 273.8,415.4 274.2,408.4 274.2,470.8 274.8,414.7 274.8,409.7 275.2,457.9 275.2,406.2 275.8,406.7 275.8,466.7 276.2,413.9 276.2,456.5 276.8,469 276.8,407 277.2,439.9 277.2,417 277.8,465.4 277.8,411.7 278.2,440.7 278.2,409.9 278.8,472.7 278.8,410.7 279.2,470.3 279.2,405.3 279.8,407.9 279.8,410.6 280.2,404 280.2,415.5 280.8,423.4 280.8,408.6 281.2,408.9 281.2,425.6 281.8,465.6 281.8,408.7 282.2,480.4 282.2,404.7 282.8,413.7 282.8,422.7 283.2,410.9 283.2,430.3 283.8,405.1 283.8,418.6 284.2,416.3 284.2,456.5 284.8,415 284.8,411.4 285.2,411.3 285.2,479.4 285.8,441.9 285.8,407.4 286.2,413.6 286.2,422 286.8,415.8 286.8,402.2 287.2,412.2 287.2,417.8 287.8,424.7 287.8,482.2 288.2,407.7 288.2,470.6 288.8,418.9 288.8,414 289.2,409.3 289.2,428.4 289.8,423.3 289.8,407.7 290.2,405.8 290.2,430.7 290.8,468.2 290.8,407.5 291.2,484.4 291.2,405.5 291.8,413.1 291.8,406.4 292.2,432.3 292.2,416.6 292.8,465.1 292.8,410.1 293.2,447 293.2,408.9 293.8,415.5 293.8,488.3 294.2,487.5 294.2,414.2 294.8,425.5 294.8,414.3 295.2,412 295.2,420.9 295.8,408.5 295.8,424.3 296.2,440.8 296.2,413 296.8,424.6 296.8,410.9 297.2,406.8 297.2,423.1 297.8,485.3 297.8,414.6 298.2,410.9 298.2,431.4 298.8,471 298.8,423.1 299.2,405.8 299.2,459.5 299.8,427.2 299.8,409.9 300.2,420.3 300.2,433.1 300.8,433.1 300.8,411.6 301.2,410.5 301.2,450.6 301.8,492.6 301.8,413 302.2,414.7 302.2,453.9 302.8,413.9 302.8,482.6 303.2,410.2 303.2,428.2 303.8,411.3 303.8,429.6 304.2,421 304.2,410 304.8,493.2 304.8,403.5 305.2,486 305.2,410.3 305.8,438.9 305.8,416.4 306.2,413.7 306.2,493.5 306.8,418 306.8,425.8 307.2,415.6 307.2,442.9 307.8,414.2 307.8,428.4 308.2,410.6 308.2,431.5 308.8,494.3 308.8,416.8 309.2,413.6 309.2,493.3 309.8,412 309.8,480.9 310.2,411.2 310.2,431.4 310.8,413.7 310.8,444.8 311.2,420.5 311.2,424" fill="none" stroke="#0000FF" stroke-width="1.7" stroke-linejoin="round"/>
<polyline points="156.5,373.1 159.8,373.7 162.9,374.3 165.7,374 168.3,376 170.8,375.5 173.1,377.8 175.2,378.2 177.3,379 179.2,379.4 181.1,379.4 182.8,379.3 184.5,379.7 186.1,381.4 187.7,380.2 189.1,380.8 190.6,381.1 191.9,381.8 193.3,382.4 194.5,383.3 195.8,383.4 197,383.9 198.1,384.2 199.3,385.1 200.4,384.7 201.4,386 202.5,387.6 203.5,386.3 204.4,387.1 205.4,390.6 206.3,387.3 207.2,387.3 208.1,388.4 209,391.2 209.8,391.9 210.7,388.8 211.5,390.8 212.3,390.3 213.1,390.1 213.8,389.2 214.6,392.6 215.3,390.6 216,392.1 216.7,392 217.4,395.2 218.1,394.4 218.8,391.5 219.4,392.6 220.1,395 220.7,391.9 221.4,393.2 222,394.4 222.6,392.4 223.2,393.2 223.8,392.9 224.3,395.9 224.9,394.9 225.5,397.9 226,396.5 226.6,397.8 227.1,396.7 227.6,398.8 228.2,397.3 228.7,396.4 229.2,400.8 229.7,400.6 230.2,404 230.7,398.7 231.1,398.3 231.6,397.3 232.1,393.9 232.6,398 233,401.4 233.5,399.1 233.9,396.7 234.4,402.6 234.8,400.3 235.2,400.9 235.7,401 236.1,401.7 236.5,403.5 236.9,399.5 237.3,402.3 237.7,402 238.1,406.4 238.5,401.5 238.9,408.4 239.3,405.6 239.7,408.8 240.1,402.9 240.5,406.9 240.8,405.7 241.2,402.1 241.6,404.6 241.9,404.4 242.3,403.6 242.7,404.2 243,403.1 243.4,405.2 243.7,407.4 244.1,405 244.4,403.6 244.7,410.5 245.1,406.4 245.4,407.4 245.7,407.1 246.1,406.6 246.4,410.1 246.7,407 247,408.4 247.3,405.4 247.6,405.2 248,408.1 248.3,416.2 248.6,410 248.9,416.7 249.2,411.4 249.5,411.6 249.8,408.7 250.1,410.1 250.4,417.3 250.6,415.2 250.9,409.3 251.2,409.8 251.5,416.4 251.8,410 252.1,415.1 252.3,409.4 252.6,414.3 252.9,418.2 253.2,415.5 253.4,413.3 253.7,413 254,412.3 254.2,412.6 254.5,417.9 254.7,418 255,414.9 255.3,410 255.5,412 255.8,414.9 256,413.9 256.3,410.2 256.8,426 256.8,410.9 257.2,414.7 257.5,422.1 257.7,413.5 258,413.6 258.2,415.7 258.4,417.8 258.7,414 258.9,420.1 259.1,409.9 259.4,418.8 259.6,417.5 259.8,415.4 260.2,416.3 260.2,422.9 260.7,414.9 260.9,409 261.2,412.4 261.4,413.3 261.6,416.1 261.8,412.2 262.2,413.1 262.2,415.8 262.7,418 262.9,422.6 263.2,411.5 263.2,422.6 263.7,425.5 263.9,425.7 264.1,413.5 264.3,416.6 264.8,444.8 264.8,420 265.2,420 265.2,416.1 265.7,431.9 265.9,423.5 266.2,425.7 266.2,409.3 266.7,418 266.8,429.1 267.2,427.8 267.2,420.3 267.8,415.3 267.8,428.7 268.1,413.2 268.3,416.4 268.8,413.7 268.8,418.4 269.2,417.1 269.2,439.9 269.8,424.2 269.8,416.7 270.2,414.9 270.2,433 270.8,420 270.8,443.4 271.2,418.9 271.2,413.8 271.8,452 271.8,429 272.2,427.6 272.2,422.6 272.8,421.2 272.8,471.7 273.2,429.1 273.2,418.1 273.8,426.3 273.8,427.5 274.2,469.9 274.2,419.8 274.8,417.7 274.8,464.7 275.2,418.5 275.2,424.9 275.8,419.4 275.8,432.6 276.2,434.2 276.2,422.8 276.8,439.3 276.8,430.6 277.2,421.9 277.2,426.8 277.8,428 277.8,418 278.2,414.9 278.2,472.5 278.8,422.6 278.8,414.9 279.2,434 279.2,419.9 279.8,432.5 279.8,423.3 280.2,430.2 280.2,417.7 280.8,421.3 280.8,442.9 281.2,470.5 281.2,482.4 281.8,421.4 281.8,434.6 282.2,418.7 282.2,430.5 282.8,420.4 282.8,434.8 283.2,434.7 283.2,422.2 283.8,420.7 283.8,440.9 284.2,428.5 284.2,434.2 284.8,430.3 284.8,420.7 285.2,413.5 285.2,425.7 285.8,420.8 285.8,428.8 286.2,421.6 286.2,430.1 286.8,425 286.8,431.6 287.2,483.2 287.2,422.7 287.8,438.9 287.8,422.5 288.2,415.4 288.2,429.7 288.8,422.6 288.8,436.7 289.2,429.3 289.2,419.5 289.8,421.4 289.8,480.2 290.2,423.5 290.2,428.9 290.8,431.5 290.8,489 291.2,428.7 291.2,417.9 291.8,482.6 291.8,421.3 292.2,422.8 292.2,430.5 292.8,421 292.8,442.7 293.2,440.6 293.2,420.5 293.8,492.2 293.8,421.9 294.2,436 294.2,420.4 294.8,416.3 294.8,436.4 295.2,432.8 295.2,499.7 295.8,496.7 295.8,420.5 296.2,423 296.2,491.9 296.8,466.7 296.8,419.6 297.2,425.8 297.2,488.8 297.8,474.2 297.8,424.6 298.2,455.7 298.2,422.6 298.8,423.8 298.8,486.4 299.2,474.8 299.2,425.8 299.8,505.8 299.8,424.4 300.2,450.4 300.2,428.4 300.8,480 300.8,431.4 301.2,492.9 301.2,422.9 301.8,428.2 301.8,436.5 302.2,427.8 302.2,467 302.8,490.9 302.8,422 303.2,425 303.2,503.8 303.8,425 303.8,470.5 304.2,465.2 304.2,419.3 304.8,503.5 304.8,421.5 305.2,445.6 305.2,422.7 305.8,423.7 305.8,435.7 306.2,431.2 306.2,420.4 306.8,501.1 306.8,423.4 307.2,435.2 307.2,469.6 307.8,464.3 307.8,423.1 308.2,473.2 308.2,433.1 308.8,426.6 308.8,504.1 309.2,415.5 309.2,443.4 309.8,508.1 309.8,425.4 310.2,425.3 310.2,433.2 310.8,429.4 310.8,467.1 311.2,454.3 311.2,438.8 311.8,430 311.8,506.9 312.2,428.3 312.2,443.5 312.8,423.1 312.8,487.4 313.2,503.2 313.2,428.8 313.8,432.2 313.8,421.5 314.2,424.7 314.2,484.8 314.8,440.6 314.8,428.2 315.2,510.3 315.2,428 315.8,444.1 315.8,425.4 316.2,433.9 316.2,425.1 316.8,498.5 316.8,429.9 317.2,420.9 317.2,513.2 317.8,431.8 317.8,513.6 318.2,488.8 318.2,428.7 318.8,425.5 318.8,510.1 319.2,433.8 319.2,514.9 319.8,426.9 319.8,505.1 320.2,428.8 320.2,516.2 320.8,441.3 320.8,423.4 321.2,423.3 321.2,511.1 321.8,430.3 321.8,489.5 322.2,438.2 322.2,426.6 322.8,445.8 322.8,428.2 323.2,516.7 323.2,437.4 323.8,432.8 323.8,516.7 324.2,421.8 324.2,441.5 324.8,428.8 324.8,436.4 325.2,425.3 325.2,516.7 325.8,461.6 325.8,428.6 326.1,514.9 326.2,484.5" fill="none" stroke="#00FF00" stroke-width="1.7" stroke-linejoin="round"/>
<polyline points="165,388.6 168.3,388.1 171.4,387.6 174.2,388.3 176.8,390.3 179.3,389.4 181.6,391.4 183.7,392.4 185.8,392.2 187.7,392.8 189.6,394.2 191.3,395.5 193,396.9 194.6,396.6 196.2,397.7 197.6,396.8 199.1,397.2 200.4,397.3 201.8,398.1 203,399 204.3,399.9 205.5,399.5 206.6,401.3 207.8,401 208.9,401.2 209.9,401.6 211,404.1 212,402.7 212.9,402.3 213.9,402.5 214.8,405.2 215.7,403.2 216.6,405 217.5,405.6 218.3,402.7 219.2,406 220,404.5 220.8,404.1 221.6,404.8 222.3,406.2 223.1,406.3 223.8,406.7 224.5,405.8 225.2,408.5 225.9,409.1 226.6,409.9 227.3,409 227.9,410.7 228.6,411.3 229.2,409.5 229.9,410.1 230.5,409.9 231.1,410.1 231.7,410.9 232.3,408 232.8,409.7 233.4,411.1 234,408.3 234.5,409.3 235.1,413.9 235.6,410.1 236.1,411 236.7,412.5 237.2,411.5 237.7,411.3 238.2,411.9 238.7,412.2 239.2,412.3 239.6,413.6 240.1,416.8 240.6,414.4 241.1,417.3 241.5,415.7 242,416.1 242.4,415.8 242.9,414.4 243.3,415.9 243.7,415.9 244.2,413.9 244.6,417.4 245,417.2 245.4,416.9 245.8,415.5 246.2,412.7 246.6,420.3 247,416.8 247.4,413.9 247.8,418.9 248.2,416.5 248.6,419.5 249,417.8 249.3,421.1 249.7,418.9 250.1,419.2 250.4,419.1 250.8,422.2 251.2,417 251.5,422.5 251.9,421.3 252.2,418.7 252.6,419.8 252.9,419.2 253.2,420.3 253.6,422.9 253.9,419.2 254.2,422.6 254.6,423.3 254.9,422.6 255.2,425.5 255.5,420.8 255.8,423.1 256.1,428.7 256.5,421.4 256.8,421.2 257.1,421.5 257.4,423.4 257.7,420.6 258,421.4 258.3,418.7 258.6,420.1 258.9,449.9 259.1,420.1 259.4,421.6 259.7,424.8 260,421.9 260.3,420.2 260.6,423.6 260.8,423.5 261.1,420.3 261.4,423.6 261.7,421.1 261.9,422.1 262.2,422 262.5,426.3 262.7,422 263,423.1 263.2,424.5 263.5,427.5 263.8,428.1 264,422 264.3,418 264.5,425.4 264.8,428.7 265.2,428.3 265.2,423.4 265.7,424.1 266,426.3 266.2,431.2 266.5,425.3 266.7,423.6 266.9,435 267.2,423 267.4,425.4 267.6,425.4 267.9,422.6 268.1,434 268.3,430 268.8,426.1 268.8,425.6 269.2,421.8 269.4,427.2 269.7,423.2 269.9,423.9 270.1,421.6 270.3,468.7 270.8,424.4 270.8,434.4 271.2,427.6 271.4,426.7 271.8,438.5 271.8,424.9 272.2,430.1 272.4,430.6 272.6,470.9 272.8,426.3 273.2,425.7 273.2,458.1 273.8,423.6 273.8,463.3 274.2,428.3 274.4,436.6 274.8,430.9 274.8,424.4 275.2,464.2 275.3,431.7 275.8,468.3 275.8,424 276.2,425.9 276.2,432 276.6,430 276.8,427.8 277.2,428.6 277.2,432.5 277.8,426.1 277.8,477.5 278.2,428.4 278.2,432 278.8,428.7 278.8,450.3 279.2,431.4 279.2,427.1 279.8,481.8 279.8,427 280.2,471.1 280.2,428.6 280.8,431.2 280.8,429.4 281.2,430.2 281.2,485.4 281.8,433.6 281.8,465 282.2,428.9 282.2,427 282.8,436.5 282.8,422.2 283.2,427.3 283.2,445.8 283.8,430.5 283.8,433.1 284.2,429.4 284.2,429.7 284.8,428.7 284.8,469.6 285.2,429.9 285.2,426.8 285.8,464.7 285.8,431.5 286.2,428.2 286.2,434.5 286.8,428.5 286.8,445 287.2,428.9 287.2,438.3 287.8,439.7 287.8,427.1 288.2,426.6 288.2,439.8 288.8,479.3 288.8,434.9 289.2,428.3 289.2,437.5 289.8,424.3 289.8,437.6 290.2,429.3 290.2,482.1 290.8,487 290.8,429.9 291.2,426.6 291.2,436 291.8,427.3 291.8,431.8 292.2,430.9 292.2,491.5 292.8,490.2 292.8,433.8 293.2,430.8 293.2,436 293.8,490.9 293.8,432.2 294.2,428.5 294.2,493.5 294.8,426.3 294.8,445.9 295.2,434.3 295.2,499.8 295.8,435.4 295.8,445.9 296.2,428.9 296.2,460.2 296.8,432.7 296.8,443.9 297.2,445.2 297.2,432.5 297.8,444.5 297.8,496.7 298.2,432.3 298.2,502.7 298.8,431.2 298.8,454.4 299.2,491 299.2,429.5 299.8,444.5 299.8,431.8 300.2,444.1 300.2,428.8 300.8,472 300.8,434.4 301.2,507.8 301.2,432.6 301.8,432.4 301.8,441.4 302.2,444.3 302.2,432 302.8,426.4 302.8,447.1 303.2,480.3 303.2,441.1 303.8,431.6 303.8,504.1 304.2,494.3 304.2,432.9 304.8,495.4 304.8,430.9 305.2,437.4 305.2,507.8 305.8,433.8 305.8,490.1 306.2,435.5 306.2,452.6 306.8,468 306.8,432.2 307.2,460.1 307.2,439.2 307.8,450.1 307.8,431 308.2,432.3 308.2,466.7 308.8,433.8 308.8,479.5 309.2,442.7 309.2,435.9 309.8,468.6 309.8,443.3 310.2,435.5 310.2,509.1 310.8,454.5 310.8,431.9 311.2,433.7 311.2,511.4 311.8,516.7 311.8,434.4 312.2,458 312.2,437 312.8,447.9 312.8,430.9 313.2,448.8 313.2,516.7 313.8,438.9 313.8,504.2 314.2,508.8 314.2,437.9 314.8,446.7 314.8,507 315.2,435.6 315.2,513 315.8,436.5 315.8,450.2 316.2,440.1 316.2,491.8 316.8,444 316.8,437.3 317.2,430.3 317.2,486.4 317.8,433.2 317.8,443.8 318.2,508.1 318.2,430.4 318.8,509.9 318.8,440.6 319.2,433.7 319.2,493.2 319.8,438.7 319.8,516.7 320.2,447.6 320.2,490.5 320.8,504.5 320.8,438.3 321.2,433.1 321.2,462.7 321.8,432 321.8,443 322.2,479.5 322.2,430.4 322.8,500.4 322.8,438.1 323.2,516.7 323.2,438.9 323.8,437.2 323.8,442.6 324.2,429.5 324.2,477.2 324.8,451.9 324.8,498.3 325.2,440.3 325.2,495.1 325.8,481.1 325.8,435.7 326.2,447.2 326.2,436.5 326.8,435.7 326.8,516.7 327.2,441.3 327.2,436.8 327.8,516.7 327.8,436 328.2,447.6 328.2,516.7 328.8,436.3 328.8,516.7 329.2,428.7 329.2,516.7 329.8,516.7 329.8,443.9 330.2,435.8 330.2,516.7 330.8,487 330.8,435.8 331.2,497.7 331.2,436.9 331.8,516.7 331.8,447.8 332.2,450.9 332.2,438.2 332.8,477.6 332.8,437.2 333.2,437.3 333.2,475.5 333.8,501.9 333.8,459.3 334.2,435.3 334.2,491.6 334.8,436.7 334.8,516.7 335.2,439.6 335.2,492.7 335.8,516.7 335.8,439.9 336.2,442.2 336.2,506.9 336.8,432.4 336.8,447.7 337.2,513.4 337.2,456.4 337.8,440.8 337.8,453.7" fill="none" stroke="#FF0000" stroke-width="1.7" stroke-linejoin="round"/>
<polyline points="168.2,398.4 171.5,402.9 174.6,400 177.4,400.2 180,400 182.5,400.6 184.8,401.3 186.9,401.7 189,402.7 190.9,403.9 192.8,404.2 194.5,404.8 196.2,404.2 197.8,404.9 199.4,407.5 200.8,407.6 202.3,409.2 203.6,408.9 205,407.9 206.2,410 207.5,409.9 208.7,410 209.8,409.8 211,410.7 212.1,411 213.1,412.4 214.2,412 215.2,414.1 216.1,412 217.1,413.6 218,414 218.9,412.9 219.8,413 220.7,415.8 221.5,415.5 222.4,415.1 223.2,416.4 224,415.5 224.8,417.2 225.5,416.4 226.3,418 227,420.3 227.7,418 228.4,421 229.1,417.8 229.8,419.3 230.5,418 231.1,420.4 231.8,421.2 232.4,421 233.1,421.2 233.7,426.2 234.3,426.9 234.9,420.4 235.5,426.9 236,420 236.6,422.2 237.2,423.7 237.7,424.7 238.3,422.4 238.8,423.4 239.3,425.6 239.9,424 240.4,424.4 240.9,428.8 241.4,430.2 241.9,426.6 242.4,427.1 242.8,427.2 243.3,426.5 243.8,426.6 244.3,425.5 244.7,431.5 245.2,428.6 245.6,428.7 246.1,430.4 246.5,443 246.9,437.1 247.4,429.5 247.8,429.3 248.2,431.9 248.6,428.5 249,425.3 249.4,436.7 249.8,446.2 250.2,431.8 250.6,436.6 251,438.7 251.4,435.8 251.8,432.2 252.2,427.5 252.5,439.4 252.9,432.7 253.3,431.1 253.6,439.9 254,436.7 254.4,429.5 254.7,459.1 255.1,434.1 255.4,441.8 255.8,428.2 256.1,434.2 256.4,435.4 256.8,445.7 257.1,431.9 257.4,424.5 257.8,455.5 258.1,438.7 258.4,484.5 258.7,449.5 259,440.3 259.3,434.1 259.7,444.2 260,481.3 260.3,437.2 260.6,438.4 260.9,448 261.2,434.5 261.5,434.1 261.8,438.6 262.1,438.8 262.3,435.5 262.6,435.3 262.9,442.5 263.2,450.3 263.5,445.6 263.8,445.5 264,462 264.3,430.8 264.6,433.2 264.9,437.2 265.1,434.9 265.4,436.1 265.7,441.7 265.9,434.8 266.2,439.2 266.4,431.2 266.7,436.8 267,453.4 267.2,487.8 267.5,445 267.7,448.5 268,439.9 268.2,447.7 268.5,444.6 268.7,499.6 268.9,439.6 269.2,435.4 269.4,437.7 269.7,440.4 269.9,448.4 270.1,442.5 270.4,441.6 270.6,442.9 270.8,454.3 271.1,481.8 271.3,458.5 271.8,437.6 271.8,452.8 272.2,449.8 272.4,440.1 272.6,444.4 272.9,441.1 273.1,453.6 273.3,450.7 273.8,441.4 273.8,449.6 274.1,445.5 274.4,446.7 274.8,442.8 274.8,450.9 275.2,450.6 275.4,457.5 275.6,444.9 275.8,437.7 276.2,443.7 276.2,483.9 276.6,499.8 276.8,455.1 277.2,509.6 277.2,441.2 277.8,497 277.8,440.8 278.2,440.7 278.4,489.2 278.8,455.6 278.8,475.1 279.2,447 279.2,454.4 279.7,451.5 279.8,482.7 280.2,480.6 280.2,434.6 280.8,512.4 280.8,444.2 281.2,442.2 281.2,507.4 281.8,449.7 281.8,436.2 282.2,448.4 282.2,468.8 282.8,432.3 282.8,449 283.2,447.4 283.2,442.4 283.8,455.4 283.8,446.1 284.2,449.5 284.2,474.5 284.8,490.4 284.8,439 285.2,445.9 285.2,454.6 285.8,468.3 285.8,448.2 286.2,471.5 286.2,448.2 286.8,447.7 286.8,441.7 287.2,452.7 287.2,515.5 287.8,495.2 287.8,449.3 288.2,445.3 288.2,454.1 288.8,441.8 288.8,482.2 289.2,516.7 289.2,445.4 289.8,452.3 289.8,504.1 290.2,448.2 290.2,482.6 290.8,438.4 290.8,460.4 291.2,456.1 291.2,447.3 291.8,446.4 291.8,516.7 292.2,511.5 292.2,445 292.8,437.9 292.8,474.6 293.2,515.3 293.2,447.5 293.8,439.4 293.8,516.7 294.2,447.2 294.2,474.9 294.8,515 294.8,451 295.2,466.6 295.2,440.8 295.8,451.5 295.8,501.6 296.2,501.8 296.2,450.5 296.8,445 296.8,471 297.2,465.3 297.2,445.5 297.8,516.7 297.8,448.5 298.2,462 298.2,491.9 298.8,471.1 298.8,445.8 299.2,453.9 299.2,497.1 299.8,461.6 299.8,450.9 300.2,512.1 300.2,449.9 300.8,479.3 300.8,446 301.2,504.5 301.2,447.5 301.8,447 301.8,503.4 302.2,502.2 302.2,449.9 302.8,455.2 302.8,464.9 303.2,451.1 303.2,516.6 303.8,515.7 303.8,444.6 304.2,456.1 304.2,516.7 304.8,473.5 304.8,451.5 305.2,516.7 305.2,450.9 305.8,516.7 305.8,451.6 306.2,450.1 306.2,470.1 306.8,451.7 306.8,497.6 307.2,516.7 307.2,445.7 307.8,450 307.8,516.7 308.2,451.6 308.2,473.4 308.8,437.5 308.8,516.7 309.2,455.1 309.2,476.1 309.8,506.9 309.8,464.9 310.2,446.5 310.2,480.2 310.8,455.6 310.8,516.7 311.2,447.5 311.2,441.6 311.8,516.7 311.8,453.6 312.2,445.7 312.2,452.2 312.8,439.2 312.8,516.7 313.2,516.7 313.2,447.5 313.8,513.8 313.8,446.1 314.2,452.9 314.2,516.7 314.8,454.5 314.8,487.8 315.2,514.8 315.2,447.7 315.8,461.1 315.8,441.9 316.2,481.6 316.2,437.6 316.8,443.1 316.8,502.9 317.2,461 317.2,447.8 317.8,470 317.8,450.5 318.2,456 318.2,516.7 318.8,516.7 318.8,454 319.2,467.2 319.2,441.8 319.8,460.5 319.8,442.5 320.2,516.7 320.2,451.8 320.8,469.9 320.8,494.8 321.2,446.4 321.2,458.5 321.8,516.7 321.8,443.6 322.2,516.7 322.2,446.3 322.8,516.7 322.8,438.4 323.2,463.1 323.2,516.7 323.8,458.8 323.8,507 324.2,516.7 324.2,448.5 324.8,516.7 324.8,455.3 325.2,459 325.2,443.7 325.8,485.7 325.8,443.2 326.2,472.6 326.2,516.7 326.8,516.7 326.8,450.2 327.2,516.7 327.2,448.3 327.8,516.7 327.8,446.4 328.2,447.5 328.2,469.5 328.8,479.5 328.8,453.9 329.2,441.3 329.2,469.3 329.8,502.5 329.8,443.6 330.2,448.4 330.2,471.5 330.8,455.8 330.8,493.7 331.2,516.7 331.2,457.5 331.8,516.7 331.8,459.7 332.2,516.7 332.2,443.4 332.8,444.2 332.8,492.7 333.2,516.7 333.2,447.3 333.8,443.3 333.8,516.7 334.2,446.6 334.2,516.7 334.8,516.7 334.8,449.5 335.2,465.9 335.2,449.5 335.8,501.3 335.8,454.6 336.2,516.7 336.2,459.3 336.8,445 336.8,478.1 337.2,516.7 337.2,455.5 337.8,456.1 337.8,516.7 338.2,452.2 338.2,516.7 338.8,453.2 338.8,516.7 339.2,516.7 339.2,463.9 339.8,451.5 339.8,505.3 340.2,493.7 340.2,450.9 340.8,516.7 340.8,442.6 341.2,446.4 341.2,516.7 341.8,448 341.8,511.7 342.2,505.2 342.2,454.2 342.8,516.7 342.8,448.8 343.2,441.4 343.2,455.9 343.8,476.2 343.8,464.9 344.2,459.4 344.2,516.7 344.8,516.7 344.8,452.6 345.2,454.6 345.2,485.5 345.8,516.7 345.8,452.9 346.2,516.7 346.2,455.5 346.8,480.1 346.8,443.4 347.2,471.7 347.2,460.6 347.8,515 347.8,450.4 348.2,456.8 348.2,474.4 348.8,516.7 348.8,465.5 349.2,516.7 349.2,507.8 349.8,467.6 349.8,454.6 350.2,516.7 350.2,451.3 350.5,516.7" fill="none" stroke="#000000" stroke-width="1.7" stroke-linejoin="round"/>
</g>
<path d="M86 73.5V192.2H222M86 192.2h-2.5M86 137.2h-2.5M86 82.2h-2.5M86 164.7h-1.5M86 109.7h-1.5M90.5 192.2v2.5M115 192.2v1.5M139.5 192.2v2.5M164 192.2v1.5M188.5 192.2v2.5M213 192.2v1.5" stroke="#777" stroke-width="1" fill="none"/>
<text x="81.6" y="194.9" font-size="8.3" text-anchor="end">0.0</text>
<text x="81.6" y="139.9" font-size="8.3" text-anchor="end">0.1</text>
<text x="81.6" y="84.9" font-size="8.3" text-anchor="end">0.2</text>
<text x="91" y="202.5" font-size="8.3" text-anchor="middle">0.0</text>
<text x="126.6" y="205.8" font-size="8.3">1.0x10<tspan font-size="5.5" dy="-4">-4</tspan></text>
<text x="173.8" y="205.8" font-size="8.3">2.0x10<tspan font-size="5.5" dy="-4">-4</tspan></text>
<text x="137.2" y="220.6" font-size="8.6">Time (s)</text>
<text x="131.2" y="170.5" font-size="8.6">640 V</text>
<text transform="translate(64.6 138.7) rotate(-90)" font-size="8.6" text-anchor="middle">-d<tspan font-style="italic">U</tspan>/d<tspan font-style="italic">t</tspan> (a.u.)</text>
<polyline points="86,192 88,191.5 90.3,192.3 90.9,150 91.6,100 92.4,85.2 93.4,96.7 95,109.3 95.4,112.8 95.8,115.8 96.2,118 96.6,121.5 97,124 97.4,127 97.8,129.2 98.2,131.4 98.6,132.4 99,135.5 99.4,137.1 99.8,138.3 100.2,140.7 100.6,142.6 101,142.6 101.4,144.9 101.8,145.2 102.2,146.3 102.6,147.1 103,148.2 103.4,149.5 103.8,150.6 104.2,150.1 104.6,152.2 105,152.1 105.4,153 105.8,154.7 106.2,156.7 106.6,157.3 107,156.7 107.4,157.4 107.8,158 108.2,160 108.6,161.8 109,161.4 109.4,162.9 109.8,162.8 110.2,165 110.6,160.5 111,160.8 111.4,164 111.8,165.6 112.2,164.6 112.6,166.3 113,164.5 113.4,164.8 113.8,166 114.2,168.7 114.6,168.9 115,167.4 115.4,169.2 115.8,168.3 116.2,169.6 116.6,168.3 117,170.2 117.4,169.5 117.8,170.8 118.2,170.3 118.6,170.4 119,172 119.4,171.7 119.8,172.6 120.2,172.3 120.6,174.1 121,172.4 121.4,174.9 121.8,176 122.2,174 122.6,177 123,177.6 123.4,175.6 123.8,173.3 124.2,173.1 124.6,175.4 125,178.3 125.4,176.8 125.8,177.3 126.2,176.1 126.6,175.6 127,177.4 127.4,175.5 127.8,177 128.2,178.2 128.6,177.7 129,178.6 129.4,177.4 129.8,179.1 130.2,179 130.6,176.4 131,177.4 131.4,178.1 131.8,180.2 132.2,179.9 132.6,180.1 133,180.1 133.4,181 133.8,181.6 134.2,179.7 134.6,178.3 135,181.6 135.4,180.5 135.8,181 136.2,180.8 136.6,179.6 137,179.1 137.4,182.7 137.8,183 138.2,182.9 138.6,182 139,182.2 139.4,181.3 139.8,182.1 140.2,181.6 140.6,181.5 141,182.7 141.4,184.9 141.8,180 142.2,183.6 142.6,183.8 143,181.2 143.4,183.5 143.8,183.3 144.2,182.6 144.6,182.7 145,181.5 145.4,185.9 145.8,186.9 146.2,185.9 146.6,183.3 147,184.1 147.4,184.3 147.8,182.7 148.2,183.5 148.6,184.7 149,183.4 149.4,181.6 149.8,182.3 150.2,184.5 150.6,183.7 151,183.8 151.4,186.2 151.8,184.4 152.2,183.3 152.6,184.3 153,187.5 153.4,182.9 153.8,187 154.2,186.6 154.6,184.4 155,184.2 155.4,186.7 155.8,185.1 156.2,184 156.6,187.4 157,185.1 157.4,185.4 157.8,185 158.2,184.5 158.6,185.2 159,184.5 159.4,185.8 159.8,186.6 160.2,186.6 160.6,186.8 161,187.3 161.4,186.3 161.8,184.4 162.2,186.6 162.6,183 163,184.4 163.4,185.8 163.8,183.1 164.2,187.5 164.6,184.1 165,183.4 165.4,184.5 165.8,184.5 166.2,185.6 166.6,185.5 167,187.2 167.4,185.5 167.8,186 168.2,184.4 168.6,186.5 169,184.8 169.4,183.2 169.8,187.7 170.2,184.5 170.6,184.4 171,184.8 171.4,186.9 171.8,183.9 172.2,185.5 172.6,186.9 173,188.8 173.4,185.7 173.8,186.3 174.2,185 174.6,189 175,186.1 175.4,186.2 175.8,186.5 176.2,185 176.6,186.3 177,184.6 177.4,188.5 177.8,186.2 178.2,186.2 178.6,188.1 179,184.8 179.4,188.5 179.8,188.7 180.2,185.5 180.6,187.6 181,186.5 181.4,187.9 181.8,186.7 182.2,185.4 182.6,187.6 183,186.4 183.4,187 183.8,188.1 184.2,188.5 184.6,187.7 185,184.8 185.4,187.8 185.8,186.4 186.2,188.4 186.6,186.6 187,188.9 187.4,187.7 187.8,187 188.2,187.4 188.6,184.5 189,187.8 189.4,187.2 189.8,185.5 190.2,187.6 190.6,187.5 191,187.6 191.4,187 191.8,188.2 192.2,188.3 192.6,187.3 193,187.1 193.4,186.6 193.8,186.4 194.2,188.1 194.6,186.5 195,185.3 195.4,187.6 195.8,188.9 196.2,186.9 196.6,188.6 197,188 197.4,186 197.8,187.8 198.2,187.3 198.6,188.4 199,183.5 199.4,188.6 199.8,188.5 200.2,186.2 200.6,189 201,187.3 201.4,187.8 201.8,188.8 202.2,189.5 202.6,187.8 203,188.6 203.4,188.2 203.8,186.6 204.2,189.9 204.6,188.8 205,187.9 205.4,189.2 205.8,188.5 206.2,187 206.6,189.2 207,187.9 207.4,188.7 207.8,189.2 208.2,189.2 208.6,190.5 209,188.1 209.4,187.6 209.8,186.9 210.2,187 210.6,188.9 211,188.5 211.4,186.8 211.8,187.1 212.2,187.4 212.6,190.2 213,186.7 213.4,188.6 213.8,185.8 214.2,187.8 214.6,190.1 215,186.4 215.4,189.8 215.8,185.5 216.2,188.3 216.6,186.7 217,188.2 217.4,187.9 217.8,189.4 218.2,188.6 218.6,188.5 219,187.5 219.4,188.9 219.8,187.2 220.2,187.4" fill="none" stroke="#FF00FF" stroke-width="2.0" stroke-linejoin="round"/>
<path d="M78.8 10.4L193 41.1M146.6 19.1L257 110" stroke="#222" stroke-width="0.9" fill="none"/>
<path d="M164.5 15.5V26" stroke="#000" stroke-width="1"/><path d="M162.8 25L164.5 31.2L166.2 25Z" fill="#000"/>
<text x="169.3" y="22.8" font-size="11.5"><tspan font-style="italic">t</tspan><tspan font-size="6.5" font-style="italic" dy="3.5">t</tspan></text>
<text x="111.7" y="19.9" font-size="11">-0.39</text>
<text x="125" y="43.2" font-size="11">-0.38</text>
<text x="139.4" y="63.9" font-size="11">-0.39</text>
<text x="153.7" y="85.3" font-size="11">-0.41</text>
<text x="178" y="116.4" font-size="11">-0.47</text>
<text x="199.4" y="144.7" font-size="11">-0.48</text>
<text x="254.4" y="87.9" font-size="11">-1.4</text>
<text x="276.3" y="109.9" font-size="11">-1.5</text>
<text x="304.6" y="129.9" font-size="11">-1.6</text>
<text x="334.3" y="159.7" font-size="11">-1.5</text>
<text x="354.5" y="179.5" font-size="11">-1.3</text>
<text x="222.2" y="23.1" font-size="12.5"><tspan font-weight="bold">3</tspan>+PC-Z,1:1</text>
<text x="331.5" y="19.3" font-size="11"><tspan font-style="italic">U</tspan><tspan font-size="7" dy="3">0</tspan><tspan font-size="7" dy="-4">:</tspan></text>
<rect x="305.4" y="25" width="60.3" height="88.7" fill="#fff" stroke="#555" stroke-width="1"/>
<path d="M309 36.5H335.2" stroke="#FF00FF" stroke-width="1.8"/>
<text x="337.4" y="40.5" font-size="10">640 V</text>
<path d="M309 50.2H335.2" stroke="#00FFFF" stroke-width="1.8"/>
<text x="337.4" y="54.2" font-size="10">550 V</text>
<path d="M309 63.8H335.2" stroke="#0000FF" stroke-width="1.8"/>
<text x="337.4" y="67.8" font-size="10">460 V</text>
<path d="M309 77.5H335.2" stroke="#00FF00" stroke-width="1.8"/>
<text x="337.4" y="81.5" font-size="10">380 V</text>
<path d="M309 91.1H335.2" stroke="#FF0000" stroke-width="1.8"/>
<text x="337.4" y="95.1" font-size="10">292 V</text>
<path d="M309 104.8H335.2" stroke="#000000" stroke-width="1.8"/>
<text x="337.4" y="108.8" font-size="10">232 V</text>
<text x="237.1" y="229.7" font-size="10"><tspan font-style="italic">T</tspan>=25<tspan font-size="6" dx="0.6" dy="-4.8">o</tspan><tspan dx="0.8" dy="4.8">C</tspan></text>
<text x="56.7" y="231.5" font-size="8.5">UV flash</text>
<text x="13.6" y="18" font-size="15">(a)</text>
<text transform="translate(13.8 127.5) rotate(-90)" font-size="13" text-anchor="middle">-d<tspan font-style="italic">U</tspan>/d<tspan font-style="italic">t</tspan> (a.u.)</text>
<text x="193.4" y="270.2" font-size="13">Time (s)</text>
<path d="M60.9 237.2v-3M60.9 2v3M77 237.2v-3M77 2v3M88.5 237.2v-3M88.5 2v3M97.4 237.2v-3M97.4 2v3M104.6 237.2v-3M104.6 2v3M110.8 237.2v-3M110.8 2v3M116.1 237.2v-3M116.1 2v3M120.8 237.2v-3M120.8 2v3M125 237.2v-5M125 2v5M152.6 237.2v-3M152.6 2v3M168.8 237.2v-3M168.8 2v3M180.2 237.2v-3M180.2 2v3M189.1 237.2v-3M189.1 2v3M196.4 237.2v-3M196.4 2v3M202.5 237.2v-3M202.5 2v3M207.9 237.2v-3M207.9 2v3M212.6 237.2v-3M212.6 2v3M216.8 237.2v-5M216.8 2v5M244.4 237.2v-3M244.4 2v3M260.5 237.2v-3M260.5 2v3M272 237.2v-3M272 2v3M280.9 237.2v-3M280.9 2v3M288.1 237.2v-3M288.1 2v3M294.3 237.2v-3M294.3 2v3M299.6 237.2v-3M299.6 2v3M304.3 237.2v-3M304.3 2v3M308.5 237.2v-5M308.5 2v5M336.1 237.2v-3M336.1 2v3M352.3 237.2v-3M352.3 2v3M363.7 237.2v-3M363.7 2v3M44.8 231h3M372.5 231h-3M44.8 226.2h3M372.5 226.2h-3M44.8 222.1h3M372.5 222.1h-3M44.8 218.6h3M372.5 218.6h-3M44.8 215.5h3M372.5 215.5h-3M44.8 212.7h5M372.5 212.7h-5M44.8 194.4h3M372.5 194.4h-3M44.8 183.7h3M372.5 183.7h-3M44.8 176.1h3M372.5 176.1h-3M44.8 170.2h3M372.5 170.2h-3M44.8 165.4h3M372.5 165.4h-3M44.8 161.3h3M372.5 161.3h-3M44.8 157.8h3M372.5 157.8h-3M44.8 154.7h3M372.5 154.7h-3M44.8 151.9h5M372.5 151.9h-5M44.8 133.6h3M372.5 133.6h-3M44.8 122.9h3M372.5 122.9h-3M44.8 115.3h3M372.5 115.3h-3M44.8 109.4h3M372.5 109.4h-3M44.8 104.6h3M372.5 104.6h-3M44.8 100.5h3M372.5 100.5h-3M44.8 97h3M372.5 97h-3M44.8 93.9h3M372.5 93.9h-3M44.8 91.1h5M372.5 91.1h-5M44.8 72.8h3M372.5 72.8h-3M44.8 62.1h3M372.5 62.1h-3M44.8 54.5h3M372.5 54.5h-3M44.8 48.6h3M372.5 48.6h-3M44.8 43.8h3M372.5 43.8h-3M44.8 39.7h3M372.5 39.7h-3M44.8 36.2h3M372.5 36.2h-3M44.8 33.1h3M372.5 33.1h-3M44.8 30.3h5M372.5 30.3h-5M44.8 12h3M372.5 12h-3" stroke="#000" stroke-width="1" fill="none"/>
<rect x="44.8" y="2" width="327.7" height="235.2" fill="none" stroke="#000" stroke-width="1.5"/>
<text x="125" y="257.4" font-size="12" text-anchor="middle">10</text>
<text x="131.2" y="250.6" font-size="7.5">-5</text>
<text x="216.8" y="257.4" font-size="12" text-anchor="middle">10</text>
<text x="222.9" y="250.6" font-size="7.5">-4</text>
<text x="308.5" y="257.4" font-size="12" text-anchor="middle">10</text>
<text x="314.7" y="250.6" font-size="7.5">-3</text>
<text x="37" y="218.7" font-size="12" text-anchor="end">10</text>
<text x="37.3" y="211.4" font-size="7.5">-4</text>
<text x="37" y="157.9" font-size="12" text-anchor="end">10</text>
<text x="37.3" y="150.6" font-size="7.5">-3</text>
<text x="37" y="97.1" font-size="12" text-anchor="end">10</text>
<text x="37.3" y="89.8" font-size="7.5">-2</text>
<text x="37" y="36.3" font-size="12" text-anchor="end">10</text>
<text x="37.3" y="29" font-size="7.5">-1</text>
<path d="M86.2 349.7V467.8H222M86.2 467.8h-2.5M86.2 439.1h-2.5M86.2 410.5h-2.5M86.2 381.6h-2.5M86.2 352.6h-2.5M86.2 453.4h-1.5M86.2 424.8h-1.5M86.2 396h-1.5M86.2 367.1h-1.5M92 467.8v2.5M111.2 467.8v1.5M130.5 467.8v2.5M149.8 467.8v1.5M169 467.8v2.5M188.2 467.8v1.5M207.5 467.8v2.5" stroke="#777" stroke-width="1" fill="none"/>
<text x="82.2" y="470.5" font-size="8.6" text-anchor="end">0.0</text>
<text x="82.2" y="441.8" font-size="8.6" text-anchor="end">0.1</text>
<text x="82.2" y="413.2" font-size="8.6" text-anchor="end">0.2</text>
<text x="82.2" y="384.3" font-size="8.6" text-anchor="end">0.3</text>
<text x="82.2" y="355.3" font-size="8.6" text-anchor="end">0.4</text>
<text x="92" y="478.4" font-size="8.6" text-anchor="middle">0.0</text>
<text x="115.8" y="482.4" font-size="8.6">5.0x10<tspan font-size="5.5" dy="-4">-5</tspan></text>
<text x="152.6" y="482.4" font-size="8.6">1.0x10<tspan font-size="5.5" dy="-4">-4</tspan></text>
<text x="190.8" y="482.4" font-size="8.6">1.5x10<tspan font-size="5.5" dy="-4">-4</tspan></text>
<text x="137.8" y="495.2" font-size="8.6">Time (s)</text>
<text x="113.8" y="438" font-size="8.6">600 V</text>
<text transform="translate(65.4 414.7) rotate(-90)" font-size="8.9" text-anchor="middle">-d<tspan font-style="italic">U</tspan>/d<tspan font-style="italic">t</tspan> (a.u.)</text>
<polyline points="86,467.3 88,466.8 90,467.5 91.3,467.5 91.6,382 92.7,351 93.5,378 94.5,405 95.3,414 95.5,416.4 95.9,420.3 96.3,423.8 96.7,426.7 97.1,427.3 97.5,427.9 97.9,430.8 98.3,431.4 98.7,431.3 99.1,433 99.5,434.4 99.9,435.9 100.3,437.2 100.7,437.4 101.1,437.6 101.5,438.9 101.9,439.1 102.3,440.1 102.7,440.2 103.1,440.4 103.5,443 103.9,442.1 104.3,443 104.7,442.8 105.1,443.3 105.5,444 105.9,445.6 106.3,446.8 106.7,446.4 107.1,445.5 107.5,450.2 107.9,448.1 108.3,448.7 108.7,447 109.1,447.8 109.5,449.5 109.9,446.3 110.3,448.2 110.7,450.4 111.1,454.1 111.5,451.2 111.9,449.1 112.3,449.1 112.7,452.9 113.1,450.3 113.5,451.3 113.9,455.2 114.3,452.5 114.7,452 115.1,451.6 115.5,455.3 115.9,455.5 116.3,452.6 116.7,451.5 117.1,453.8 117.5,456.3 117.9,455 118.3,452.5 118.7,455.1 119.1,455.9 119.5,454.8 119.9,455.3 120.3,455.2 120.7,454.5 121.1,454.4 121.5,453.4 121.9,453.9 122.3,453.2 122.7,456.8 123.1,456.9 123.5,456.3 123.9,457 124.3,456.5 124.7,455.2 125.1,456.8 125.5,456.1 125.9,456.4 126.3,453.4 126.7,456 127.1,457.6 127.5,456.4 127.9,455.7 128.3,454.5 128.7,456.1 129.1,459.5 129.5,456.4 129.9,459.1 130.3,456.7 130.7,459.3 131.1,456.8 131.5,458.4 131.9,458.9 132.3,458.9 132.7,456.5 133.1,457.6 133.5,456.8 133.9,458.1 134.3,457.9 134.7,458.1 135.1,459.5 135.5,457 135.9,457.4 136.3,457.9 136.7,458.5 137.1,457.7 137.5,459.9 137.9,457.4 138.3,462.1 138.7,459.4 139.1,461.3 139.5,457.7 139.9,459 140.3,459.8 140.7,462.5 141.1,459.9 141.5,462.2 141.9,458.8 142.3,462.4 142.7,459 143.1,457.3 143.5,457 143.9,460.6 144.3,460 144.7,460.8 145.1,460.3 145.5,461.3 145.9,463.2 146.3,460.3 146.7,461.1 147.1,460.1 147.5,458.1 147.9,460.5 148.3,463.4 148.7,459.7 149.1,464.8 149.5,462.1 149.9,462 150.3,462.8 150.7,461.4 151.1,461.5 151.5,463.6 151.9,460.4 152.3,461.3 152.7,459.7 153.1,461.8 153.5,466.6 153.9,463.6 154.3,460.3 154.7,459 155.1,462.8 155.5,463 155.9,461 156.3,464.1 156.7,462.7 157.1,463.2 157.5,463.4 157.9,464 158.3,461.5 158.7,461.2 159.1,464.5 159.5,462.1 159.9,460.5 160.3,463 160.7,461.8 161.1,463.1 161.5,467.7 161.9,465.5 162.3,462 162.7,460.8 163.1,462.8 163.5,461.3 163.9,463.2 164.3,463.4 164.7,464 165.1,463 165.5,460.8 165.9,462.8 166.3,463.2 166.7,463.5 167.1,465.1 167.5,461.5 167.9,463 168.3,462.3 168.7,461.9 169.1,464.3 169.5,462.3 169.9,466.4 170.3,459.4 170.7,465.8 171.1,463 171.5,461.5 171.9,463.7 172.3,463.7 172.7,465.1 173.1,465.6 173.5,462.4 173.9,463.6 174.3,464.2 174.7,464 175.1,463.2 175.5,465.9 175.9,464.3 176.3,461.7 176.7,464.3 177.1,463.5 177.5,463.4 177.9,465.3 178.3,465 178.7,464.5 179.1,464.7 179.5,465.5 179.9,463.1 180.3,464.3 180.7,466.1 181.1,463.2 181.5,463.4 181.9,463.2 182.3,465.9 182.7,463.4 183.1,465.9 183.5,463.6 183.9,464.6 184.3,464.8 184.7,463.4 185.1,462.7 185.5,465.9 185.9,463.7 186.3,465.2 186.7,465.4 187.1,462.1 187.5,466.4 187.9,464.6 188.3,464 188.7,463.9 189.1,463.7 189.5,464.9 189.9,467.9 190.3,464.4 190.7,462.8 191.1,464.2 191.5,468 191.9,464.8 192.3,467.8 192.7,463.5 193.1,463.5 193.5,462.9 193.9,463.2 194.3,464.7 194.7,465 195.1,462 195.5,463.1 195.9,463.5 196.3,464.2 196.7,467 197.1,467.2 197.5,465.5 197.9,466.1 198.3,463.5 198.7,465.4 199.1,462 199.5,464.7 199.9,465.3 200.3,466.2 200.7,464.7 201.1,464.7 201.5,463.3 201.9,461.3 202.3,463.8 202.7,461.8 203.1,464.2 203.5,464.4 203.9,462.6 204.3,462 204.7,464.6 205.1,464 205.5,465.6 205.9,466.4 206.3,467.6 206.7,466.5 207.1,463.5 207.5,464.9 207.9,468.4 208.3,463.7 208.7,464.5 209.1,467.2 209.5,466.1 209.9,464.2 210.3,465.7 210.7,464.2 211.1,466.6 211.5,465 211.9,465.3 212.3,465.6 212.7,462.1 213.1,465.1 213.5,466 213.9,465.5 214.3,464.5 214.7,465.3 215.1,467.8 215.5,466.5 215.9,464.5 216.3,467.2 216.7,466 217.1,464.7 217.5,462.7 217.9,466.5 218.3,463.8 218.7,466.2 219.1,467.4 219.5,466.8 219.9,463.7 220.3,464.2 220.7,466.8 221.1,467.5" fill="none" stroke="#808000" stroke-width="2.2" stroke-linejoin="round"/>
<path d="M151.5 300.6L265.6 383.7M169.8 318.9L207.6 331.8" stroke="#222" stroke-width="0.9" fill="none"/>
<path d="M181.8 306V317.5" stroke="#000" stroke-width="1"/><path d="M180.1 316.6L181.8 322.9L183.5 316.6Z" fill="#000"/>
<text x="188" y="317" font-size="11.5"><tspan font-style="italic">t</tspan><tspan font-size="6.5" font-style="italic" dy="3.5">t</tspan></text>
<text x="99.3" y="296.5" font-size="11">-0.61</text>
<text x="107.2" y="316.4" font-size="11">-0.62</text>
<text x="103.8" y="332.3" font-size="11">-0.60</text>
<text x="97.1" y="346.4" font-size="11">-0.62</text>
<text x="139.8" y="372.6" font-size="11">-0.69</text>
<text x="256.4" y="354.2" font-size="11">-1.2</text>
<text x="267.6" y="374.9" font-size="11">-1.26</text>
<text x="291.6" y="390.9" font-size="11">-1.3</text>
<text x="307.8" y="408.9" font-size="11">-1.4</text>
<text x="328.9" y="430.3" font-size="11">-1.2</text>
<text x="198.8" y="298.1" font-size="12.5"><tspan font-weight="bold">DPEC</tspan>+PC-Z,1:1</text>
<text x="328.8" y="296.8" font-size="11"><tspan font-style="italic">U</tspan><tspan font-size="7" dy="3">0</tspan><tspan font-size="7" dy="-4">:</tspan></text>
<rect x="312.3" y="302.2" width="53.9" height="90.7" fill="#fff" stroke="#555" stroke-width="1"/>
<path d="M315.4 313.1H338" stroke="#000080" stroke-width="1.8"/>
<text x="340.3" y="316.5" font-size="9">600 V</text>
<path d="M315.4 325H338" stroke="#FF00FF" stroke-width="1.8"/>
<text x="340.3" y="328.4" font-size="9">484 V</text>
<path d="M315.4 336.9H338" stroke="#00FFFF" stroke-width="1.8"/>
<text x="340.3" y="340.3" font-size="9">388 V</text>
<path d="M315.4 348.9H338" stroke="#0000FF" stroke-width="1.8"/>
<text x="340.3" y="352.3" font-size="9">355 V</text>
<path d="M315.4 360.8H338" stroke="#00FF00" stroke-width="1.8"/>
<text x="340.3" y="364.2" font-size="9">296 V</text>
<path d="M315.4 372.7H338" stroke="#FF0000" stroke-width="1.8"/>
<text x="340.3" y="376.1" font-size="9">280 V</text>
<path d="M315.4 384.6H338" stroke="#000000" stroke-width="1.8"/>
<text x="340.3" y="388" font-size="9">225 V</text>
<text x="236" y="503.5" font-size="10"><tspan font-style="italic">T</tspan>=25<tspan font-size="6" dx="0.6" dy="-4.8">o</tspan><tspan dx="0.8" dy="4.8">C</tspan></text>
<text x="57" y="507.2" font-size="8.5">UV flash</text>
<text x="13.3" y="296.4" font-size="15">(b)</text>
<text transform="translate(13.8 404.7) rotate(-90)" font-size="13" text-anchor="middle">-d<tspan font-style="italic">U</tspan>/d<tspan font-style="italic">t</tspan> (a.u.)</text>
<text x="193.9" y="545.6" font-size="13">Time (s)</text>
<path d="M48.8 512.7v-3M48.8 279v3M52.8 512.7v-5M52.8 279v5M79.4 512.7v-3M79.4 279v3M95 512.7v-3M95 279v3M106 512.7v-3M106 279v3M114.6 512.7v-3M114.6 279v3M121.6 512.7v-3M121.6 279v3M127.5 512.7v-3M127.5 279v3M132.6 512.7v-3M132.6 279v3M137.2 512.7v-3M137.2 279v3M141.2 512.7v-5M141.2 279v5M167.8 512.7v-3M167.8 279v3M183.4 512.7v-3M183.4 279v3M194.4 512.7v-3M194.4 279v3M203 512.7v-3M203 279v3M210 512.7v-3M210 279v3M215.9 512.7v-3M215.9 279v3M221 512.7v-3M221 279v3M225.6 512.7v-3M225.6 279v3M229.6 512.7v-5M229.6 279v5M256.2 512.7v-3M256.2 279v3M271.8 512.7v-3M271.8 279v3M282.8 512.7v-3M282.8 279v3M291.4 512.7v-3M291.4 279v3M298.4 512.7v-3M298.4 279v3M304.3 512.7v-3M304.3 279v3M309.4 512.7v-3M309.4 279v3M314 512.7v-3M314 279v3M318 512.7v-5M318 279v5M344.6 512.7v-3M344.6 279v3M360.2 512.7v-3M360.2 279v3M371.2 512.7v-3M371.2 279v3M44.8 510.7h3M373 510.7h-3M44.8 508.5h5M373 508.5h-5M44.8 494h3M373 494h-3M44.8 485.5h3M373 485.5h-3M44.8 479.4h3M373 479.4h-3M44.8 474.7h3M373 474.7h-3M44.8 470.9h3M373 470.9h-3M44.8 467.7h3M373 467.7h-3M44.8 464.9h3M373 464.9h-3M44.8 462.4h3M373 462.4h-3M44.8 460.2h5M373 460.2h-5M44.8 445.7h3M373 445.7h-3M44.8 437.2h3M373 437.2h-3M44.8 431.1h3M373 431.1h-3M44.8 426.4h3M373 426.4h-3M44.8 422.6h3M373 422.6h-3M44.8 419.4h3M373 419.4h-3M44.8 416.6h3M373 416.6h-3M44.8 414.1h3M373 414.1h-3M44.8 411.9h5M373 411.9h-5M44.8 397.4h3M373 397.4h-3M44.8 388.9h3M373 388.9h-3M44.8 382.8h3M373 382.8h-3M44.8 378.1h3M373 378.1h-3M44.8 374.3h3M373 374.3h-3M44.8 371.1h3M373 371.1h-3M44.8 368.3h3M373 368.3h-3M44.8 365.8h3M373 365.8h-3M44.8 363.6h5M373 363.6h-5M44.8 349.1h3M373 349.1h-3M44.8 340.6h3M373 340.6h-3M44.8 334.5h3M373 334.5h-3M44.8 329.8h3M373 329.8h-3M44.8 326h3M373 326h-3M44.8 322.8h3M373 322.8h-3M44.8 320h3M373 320h-3M44.8 317.5h3M373 317.5h-3M44.8 315.3h5M373 315.3h-5M44.8 300.8h3M373 300.8h-3M44.8 292.3h3M373 292.3h-3M44.8 286.2h3M373 286.2h-3M44.8 281.5h3M373 281.5h-3" stroke="#000" stroke-width="1" fill="none"/>
<rect x="44.8" y="279" width="328.2" height="233.7" fill="none" stroke="#000" stroke-width="1.5"/>
<text x="52.8" y="533.2" font-size="12" text-anchor="middle">10</text>
<text x="59" y="526.4" font-size="7.5">-6</text>
<text x="141.2" y="533.2" font-size="12" text-anchor="middle">10</text>
<text x="147.4" y="526.4" font-size="7.5">-5</text>
<text x="229.6" y="533.2" font-size="12" text-anchor="middle">10</text>
<text x="235.8" y="526.4" font-size="7.5">-4</text>
<text x="318" y="533.2" font-size="12" text-anchor="middle">10</text>
<text x="324.2" y="526.4" font-size="7.5">-3</text>
<text x="37" y="514.5" font-size="12" text-anchor="end">10</text>
<text x="37.3" y="507.2" font-size="7.5">-5</text>
<text x="37" y="466.2" font-size="12" text-anchor="end">10</text>
<text x="37.3" y="458.9" font-size="7.5">-4</text>
<text x="37" y="417.9" font-size="12" text-anchor="end">10</text>
<text x="37.3" y="410.6" font-size="7.5">-3</text>
<text x="37" y="369.6" font-size="12" text-anchor="end">10</text>
<text x="37.3" y="362.3" font-size="7.5">-2</text>
<text x="37" y="321.3" font-size="12" text-anchor="end">10</text>
<text x="37.3" y="314" font-size="7.5">-1</text>
</svg></body></html>
